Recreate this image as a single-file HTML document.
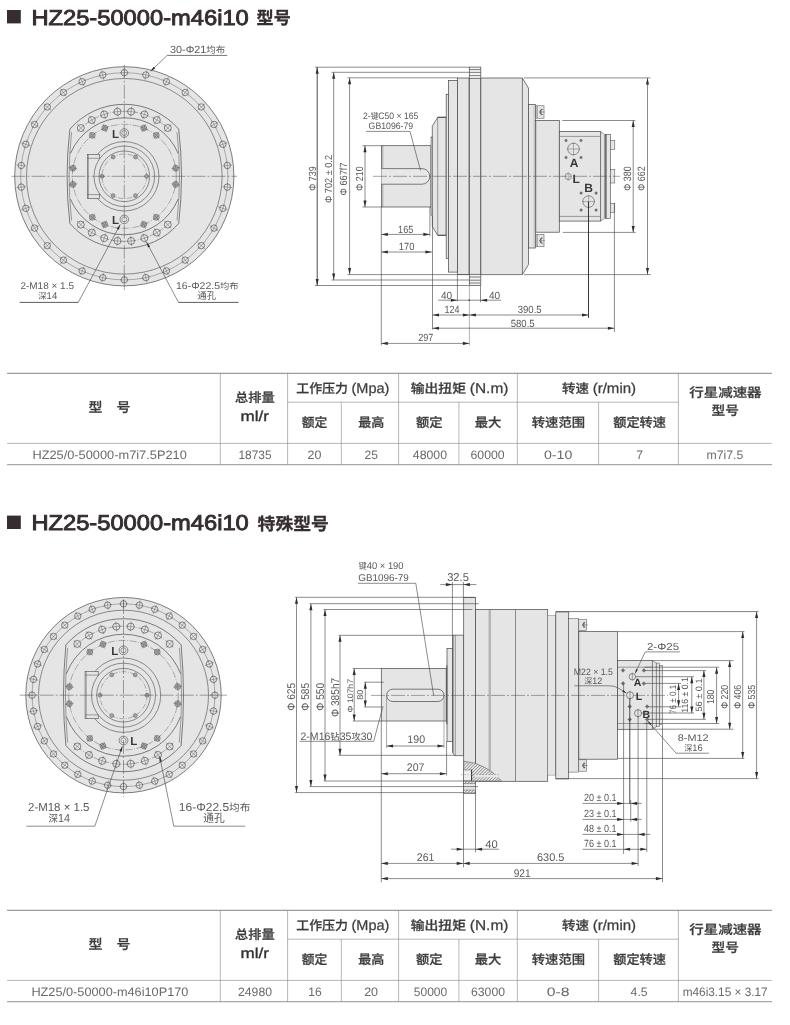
<!DOCTYPE html>
<html lang="zh-CN">
<head>
<meta charset="utf-8">
<title>HZ25-50000-m46i10</title>
<style>
html, body { margin: 0; padding: 0; background: #ffffff; }
body { width: 790px; height: 1025px; overflow: hidden; position: relative;
  font-family: "Liberation Sans", "Noto Sans CJK SC", sans-serif; color: #595959; }
main, section, header, figure { display: block; margin: 0; padding: 0; }
svg { display: block; position: absolute; left: 0; will-change: transform; overflow: hidden; }
text { white-space: pre; text-rendering: geometricPrecision; }
</style>
</head>
<body>
<main>
<section class="product" id="model-standard">
<header>
<svg class="heading" role="img" aria-label="HZ25-50000-m46i10 型号" width="790" height="40" viewBox="0 0 790 40" style="top:0px">
<rect x="7.00" y="10.00" width="13.80" height="13.40" fill="#352d2e" stroke="none" stroke-width="0"/>
<text x="31.40" y="24.80" font-size="21.4" textLength="217.40" lengthAdjust="spacingAndGlyphs" stroke="#352d2e" stroke-width="0.9" fill="#352d2e" font-family='"Liberation Sans", "Noto Sans CJK SC", sans-serif'>HZ25-50000-m46i10</text>
<text x="256.60" y="24.40" font-size="17.2" textLength="34.20" lengthAdjust="spacingAndGlyphs" font-weight="bold" stroke="#352d2e" stroke-width="0.3" fill="#352d2e" font-family='"Liberation Sans", "Noto Sans CJK SC", sans-serif'>型号</text>
</svg>
</header>
<figure>
<svg class="drawing" role="img" aria-label="外形尺寸图" width="790" height="320" viewBox="0 40 790 320" style="top:40px">
<circle cx="124.30" cy="176.30" r="109.60" fill="#e5e5e5" stroke="#4a4a4a" stroke-width="0.7"/>
<circle cx="124.30" cy="176.30" r="103.60" fill="none" stroke="#4a4a4a" stroke-width="0.4"/>
<circle cx="124.30" cy="176.30" r="97.80" fill="none" stroke="#4a4a4a" stroke-width="0.6"/>
<circle cx="124.30" cy="72.70" r="3.20" fill="#e5e5e5" stroke="#4a4a4a" stroke-width="0.65"/>
<line x1="124.30" y1="77.50" x2="124.30" y2="67.90" stroke="#4a4a4a" stroke-width="0.4"/>
<line x1="120.14" y1="72.70" x2="128.46" y2="72.70" stroke="#4a4a4a" stroke-width="0.4"/>
<circle cx="145.84" cy="74.96" r="3.20" fill="#e5e5e5" stroke="#4a4a4a" stroke-width="0.65"/>
<line x1="144.84" y1="79.66" x2="146.84" y2="70.27" stroke="#4a4a4a" stroke-width="0.4"/>
<line x1="141.77" y1="74.10" x2="149.91" y2="75.83" stroke="#4a4a4a" stroke-width="0.4"/>
<circle cx="166.44" cy="81.66" r="3.20" fill="#e5e5e5" stroke="#4a4a4a" stroke-width="0.65"/>
<line x1="164.49" y1="86.04" x2="168.39" y2="77.27" stroke="#4a4a4a" stroke-width="0.4"/>
<line x1="162.64" y1="79.96" x2="170.24" y2="83.35" stroke="#4a4a4a" stroke-width="0.4"/>
<circle cx="185.19" cy="92.49" r="3.20" fill="#e5e5e5" stroke="#4a4a4a" stroke-width="0.65"/>
<line x1="182.37" y1="96.37" x2="188.02" y2="88.60" stroke="#4a4a4a" stroke-width="0.4"/>
<line x1="181.83" y1="90.04" x2="188.56" y2="94.93" stroke="#4a4a4a" stroke-width="0.4"/>
<circle cx="201.29" cy="106.98" r="3.20" fill="#e5e5e5" stroke="#4a4a4a" stroke-width="0.65"/>
<line x1="197.72" y1="110.19" x2="204.86" y2="103.77" stroke="#4a4a4a" stroke-width="0.4"/>
<line x1="198.51" y1="103.89" x2="204.07" y2="110.07" stroke="#4a4a4a" stroke-width="0.4"/>
<circle cx="214.02" cy="124.50" r="3.20" fill="#e5e5e5" stroke="#4a4a4a" stroke-width="0.65"/>
<line x1="209.86" y1="126.90" x2="218.18" y2="122.10" stroke="#4a4a4a" stroke-width="0.4"/>
<line x1="211.94" y1="120.90" x2="216.10" y2="128.10" stroke="#4a4a4a" stroke-width="0.4"/>
<circle cx="222.83" cy="144.29" r="3.20" fill="#e5e5e5" stroke="#4a4a4a" stroke-width="0.65"/>
<line x1="218.26" y1="145.77" x2="227.39" y2="142.80" stroke="#4a4a4a" stroke-width="0.4"/>
<line x1="221.54" y1="140.33" x2="224.11" y2="148.24" stroke="#4a4a4a" stroke-width="0.4"/>
<circle cx="227.33" cy="165.47" r="3.20" fill="#e5e5e5" stroke="#4a4a4a" stroke-width="0.65"/>
<line x1="222.56" y1="165.97" x2="232.11" y2="164.97" stroke="#4a4a4a" stroke-width="0.4"/>
<line x1="226.90" y1="161.33" x2="227.77" y2="169.61" stroke="#4a4a4a" stroke-width="0.4"/>
<circle cx="227.33" cy="187.13" r="3.20" fill="#e5e5e5" stroke="#4a4a4a" stroke-width="0.65"/>
<line x1="222.56" y1="186.63" x2="232.11" y2="187.63" stroke="#4a4a4a" stroke-width="0.4"/>
<line x1="227.77" y1="182.99" x2="226.90" y2="191.27" stroke="#4a4a4a" stroke-width="0.4"/>
<circle cx="222.83" cy="208.31" r="3.20" fill="#e5e5e5" stroke="#4a4a4a" stroke-width="0.65"/>
<line x1="218.26" y1="206.83" x2="227.39" y2="209.80" stroke="#4a4a4a" stroke-width="0.4"/>
<line x1="224.11" y1="204.36" x2="221.54" y2="212.27" stroke="#4a4a4a" stroke-width="0.4"/>
<circle cx="214.02" cy="228.10" r="3.20" fill="#e5e5e5" stroke="#4a4a4a" stroke-width="0.65"/>
<line x1="209.86" y1="225.70" x2="218.18" y2="230.50" stroke="#4a4a4a" stroke-width="0.4"/>
<line x1="216.10" y1="224.50" x2="211.94" y2="231.70" stroke="#4a4a4a" stroke-width="0.4"/>
<circle cx="201.29" cy="245.62" r="3.20" fill="#e5e5e5" stroke="#4a4a4a" stroke-width="0.65"/>
<line x1="197.72" y1="242.41" x2="204.86" y2="248.83" stroke="#4a4a4a" stroke-width="0.4"/>
<line x1="204.07" y1="242.53" x2="198.51" y2="248.71" stroke="#4a4a4a" stroke-width="0.4"/>
<circle cx="185.19" cy="260.11" r="3.20" fill="#e5e5e5" stroke="#4a4a4a" stroke-width="0.65"/>
<line x1="182.37" y1="256.23" x2="188.02" y2="264.00" stroke="#4a4a4a" stroke-width="0.4"/>
<line x1="188.56" y1="257.67" x2="181.83" y2="262.56" stroke="#4a4a4a" stroke-width="0.4"/>
<circle cx="166.44" cy="270.94" r="3.20" fill="#e5e5e5" stroke="#4a4a4a" stroke-width="0.65"/>
<line x1="164.49" y1="266.56" x2="168.39" y2="275.33" stroke="#4a4a4a" stroke-width="0.4"/>
<line x1="170.24" y1="269.25" x2="162.64" y2="272.64" stroke="#4a4a4a" stroke-width="0.4"/>
<circle cx="145.84" cy="277.64" r="3.20" fill="#e5e5e5" stroke="#4a4a4a" stroke-width="0.65"/>
<line x1="144.84" y1="272.94" x2="146.84" y2="282.33" stroke="#4a4a4a" stroke-width="0.4"/>
<line x1="149.91" y1="276.77" x2="141.77" y2="278.50" stroke="#4a4a4a" stroke-width="0.4"/>
<circle cx="124.30" cy="279.90" r="3.20" fill="#e5e5e5" stroke="#4a4a4a" stroke-width="0.65"/>
<line x1="124.30" y1="275.10" x2="124.30" y2="284.70" stroke="#4a4a4a" stroke-width="0.4"/>
<line x1="128.46" y1="279.90" x2="120.14" y2="279.90" stroke="#4a4a4a" stroke-width="0.4"/>
<circle cx="102.76" cy="277.64" r="3.20" fill="#e5e5e5" stroke="#4a4a4a" stroke-width="0.65"/>
<line x1="103.76" y1="272.94" x2="101.76" y2="282.33" stroke="#4a4a4a" stroke-width="0.4"/>
<line x1="106.83" y1="278.50" x2="98.69" y2="276.77" stroke="#4a4a4a" stroke-width="0.4"/>
<circle cx="82.16" cy="270.94" r="3.20" fill="#e5e5e5" stroke="#4a4a4a" stroke-width="0.65"/>
<line x1="84.11" y1="266.56" x2="80.21" y2="275.33" stroke="#4a4a4a" stroke-width="0.4"/>
<line x1="85.96" y1="272.64" x2="78.36" y2="269.25" stroke="#4a4a4a" stroke-width="0.4"/>
<circle cx="63.41" cy="260.11" r="3.20" fill="#e5e5e5" stroke="#4a4a4a" stroke-width="0.65"/>
<line x1="66.23" y1="256.23" x2="60.58" y2="264.00" stroke="#4a4a4a" stroke-width="0.4"/>
<line x1="66.77" y1="262.56" x2="60.04" y2="257.67" stroke="#4a4a4a" stroke-width="0.4"/>
<circle cx="47.31" cy="245.62" r="3.20" fill="#e5e5e5" stroke="#4a4a4a" stroke-width="0.65"/>
<line x1="50.88" y1="242.41" x2="43.74" y2="248.83" stroke="#4a4a4a" stroke-width="0.4"/>
<line x1="50.09" y1="248.71" x2="44.53" y2="242.53" stroke="#4a4a4a" stroke-width="0.4"/>
<circle cx="34.58" cy="228.10" r="3.20" fill="#e5e5e5" stroke="#4a4a4a" stroke-width="0.65"/>
<line x1="38.74" y1="225.70" x2="30.42" y2="230.50" stroke="#4a4a4a" stroke-width="0.4"/>
<line x1="36.66" y1="231.70" x2="32.50" y2="224.50" stroke="#4a4a4a" stroke-width="0.4"/>
<circle cx="25.77" cy="208.31" r="3.20" fill="#e5e5e5" stroke="#4a4a4a" stroke-width="0.65"/>
<line x1="30.34" y1="206.83" x2="21.21" y2="209.80" stroke="#4a4a4a" stroke-width="0.4"/>
<line x1="27.06" y1="212.27" x2="24.49" y2="204.36" stroke="#4a4a4a" stroke-width="0.4"/>
<circle cx="21.27" cy="187.13" r="3.20" fill="#e5e5e5" stroke="#4a4a4a" stroke-width="0.65"/>
<line x1="26.04" y1="186.63" x2="16.49" y2="187.63" stroke="#4a4a4a" stroke-width="0.4"/>
<line x1="21.70" y1="191.27" x2="20.83" y2="182.99" stroke="#4a4a4a" stroke-width="0.4"/>
<circle cx="21.27" cy="165.47" r="3.20" fill="#e5e5e5" stroke="#4a4a4a" stroke-width="0.65"/>
<line x1="26.04" y1="165.97" x2="16.49" y2="164.97" stroke="#4a4a4a" stroke-width="0.4"/>
<line x1="20.83" y1="169.61" x2="21.70" y2="161.33" stroke="#4a4a4a" stroke-width="0.4"/>
<circle cx="25.77" cy="144.29" r="3.20" fill="#e5e5e5" stroke="#4a4a4a" stroke-width="0.65"/>
<line x1="30.34" y1="145.77" x2="21.21" y2="142.80" stroke="#4a4a4a" stroke-width="0.4"/>
<line x1="24.49" y1="148.24" x2="27.06" y2="140.33" stroke="#4a4a4a" stroke-width="0.4"/>
<circle cx="34.58" cy="124.50" r="3.20" fill="#e5e5e5" stroke="#4a4a4a" stroke-width="0.65"/>
<line x1="38.74" y1="126.90" x2="30.42" y2="122.10" stroke="#4a4a4a" stroke-width="0.4"/>
<line x1="32.50" y1="128.10" x2="36.66" y2="120.90" stroke="#4a4a4a" stroke-width="0.4"/>
<circle cx="47.31" cy="106.98" r="3.20" fill="#e5e5e5" stroke="#4a4a4a" stroke-width="0.65"/>
<line x1="50.88" y1="110.19" x2="43.74" y2="103.77" stroke="#4a4a4a" stroke-width="0.4"/>
<line x1="44.53" y1="110.07" x2="50.09" y2="103.89" stroke="#4a4a4a" stroke-width="0.4"/>
<circle cx="63.41" cy="92.49" r="3.20" fill="#e5e5e5" stroke="#4a4a4a" stroke-width="0.65"/>
<line x1="66.23" y1="96.37" x2="60.58" y2="88.60" stroke="#4a4a4a" stroke-width="0.4"/>
<line x1="60.04" y1="94.93" x2="66.77" y2="90.04" stroke="#4a4a4a" stroke-width="0.4"/>
<circle cx="82.16" cy="81.66" r="3.20" fill="#e5e5e5" stroke="#4a4a4a" stroke-width="0.65"/>
<line x1="84.11" y1="86.04" x2="80.21" y2="77.27" stroke="#4a4a4a" stroke-width="0.4"/>
<line x1="78.36" y1="83.35" x2="85.96" y2="79.96" stroke="#4a4a4a" stroke-width="0.4"/>
<circle cx="102.76" cy="74.96" r="3.20" fill="#e5e5e5" stroke="#4a4a4a" stroke-width="0.65"/>
<line x1="103.76" y1="79.66" x2="101.76" y2="70.27" stroke="#4a4a4a" stroke-width="0.4"/>
<line x1="98.69" y1="75.83" x2="106.83" y2="74.10" stroke="#4a4a4a" stroke-width="0.4"/>
<path d="M69.90,129.13 A72.00,72.00 0 0 1 178.70,129.13 A398.66,398.66 0 0 1 178.70,223.47 A72.00,72.00 0 0 1 69.90,223.47 A398.66,398.66 0 0 1 69.90,129.13 Z" fill="#e5e5e5" stroke="#4a4a4a" stroke-width="0.7" />
<path d="M71.60,132.13 A398.66,398.66 0 0 0 71.60,220.47 M177.00,132.13 A398.66,398.66 0 0 1 177.00,220.47" fill="none" stroke="#4a4a4a" stroke-width="0.5" />
<path d="M70.40,153.56 A58.50,58.50 0 0 1 178.20,153.56 M178.20,199.04 A58.50,58.50 0 0 1 70.40,199.04" fill="none" stroke="#4a4a4a" stroke-width="0.7" />
<path d="M77.54,131.15 A65.00,65.00 0 0 1 171.06,131.15" fill="none" stroke="#4a4a4a" stroke-width="0.4" stroke-dasharray="6 1.5 1 1.5" />
<circle cx="80.81" cy="128.00" r="3.50" fill="#e5e5e5" stroke="#4a4a4a" stroke-width="0.65"/>
<line x1="84.22" y1="131.79" x2="77.39" y2="124.21" stroke="#4a4a4a" stroke-width="0.4"/>
<line x1="77.49" y1="130.98" x2="84.12" y2="125.01" stroke="#4a4a4a" stroke-width="0.4"/>
<circle cx="91.80" cy="120.01" r="3.50" fill="#e5e5e5" stroke="#4a4a4a" stroke-width="0.65"/>
<line x1="94.35" y1="124.43" x2="89.25" y2="115.59" stroke="#4a4a4a" stroke-width="0.4"/>
<line x1="87.94" y1="122.24" x2="95.66" y2="117.78" stroke="#4a4a4a" stroke-width="0.4"/>
<circle cx="104.21" cy="114.48" r="3.50" fill="#e5e5e5" stroke="#4a4a4a" stroke-width="0.65"/>
<line x1="105.79" y1="119.33" x2="102.64" y2="109.63" stroke="#4a4a4a" stroke-width="0.4"/>
<line x1="99.97" y1="115.86" x2="108.46" y2="113.10" stroke="#4a4a4a" stroke-width="0.4"/>
<circle cx="117.51" cy="111.66" r="3.50" fill="#e5e5e5" stroke="#4a4a4a" stroke-width="0.65"/>
<line x1="118.04" y1="116.73" x2="116.97" y2="106.58" stroke="#4a4a4a" stroke-width="0.4"/>
<line x1="113.07" y1="112.12" x2="121.94" y2="111.19" stroke="#4a4a4a" stroke-width="0.4"/>
<circle cx="131.09" cy="111.66" r="3.50" fill="#e5e5e5" stroke="#4a4a4a" stroke-width="0.65"/>
<line x1="130.56" y1="116.73" x2="131.63" y2="106.58" stroke="#4a4a4a" stroke-width="0.4"/>
<line x1="126.66" y1="111.19" x2="135.53" y2="112.12" stroke="#4a4a4a" stroke-width="0.4"/>
<circle cx="144.39" cy="114.48" r="3.50" fill="#e5e5e5" stroke="#4a4a4a" stroke-width="0.65"/>
<line x1="142.81" y1="119.33" x2="145.96" y2="109.63" stroke="#4a4a4a" stroke-width="0.4"/>
<line x1="140.14" y1="113.10" x2="148.63" y2="115.86" stroke="#4a4a4a" stroke-width="0.4"/>
<circle cx="156.80" cy="120.01" r="3.50" fill="#e5e5e5" stroke="#4a4a4a" stroke-width="0.65"/>
<line x1="154.25" y1="124.43" x2="159.35" y2="115.59" stroke="#4a4a4a" stroke-width="0.4"/>
<line x1="152.94" y1="117.78" x2="160.66" y2="122.24" stroke="#4a4a4a" stroke-width="0.4"/>
<circle cx="167.79" cy="128.00" r="3.50" fill="#e5e5e5" stroke="#4a4a4a" stroke-width="0.65"/>
<line x1="164.38" y1="131.79" x2="171.21" y2="124.21" stroke="#4a4a4a" stroke-width="0.4"/>
<line x1="164.48" y1="125.01" x2="171.11" y2="130.98" stroke="#4a4a4a" stroke-width="0.4"/>
<path d="M171.06,221.45 A65.00,65.00 0 0 1 77.54,221.45" fill="none" stroke="#4a4a4a" stroke-width="0.4" stroke-dasharray="6 1.5 1 1.5" />
<circle cx="167.79" cy="224.60" r="3.50" fill="#e5e5e5" stroke="#4a4a4a" stroke-width="0.65"/>
<line x1="164.38" y1="220.81" x2="171.21" y2="228.39" stroke="#4a4a4a" stroke-width="0.4"/>
<line x1="171.11" y1="221.62" x2="164.48" y2="227.59" stroke="#4a4a4a" stroke-width="0.4"/>
<circle cx="156.80" cy="232.59" r="3.50" fill="#e5e5e5" stroke="#4a4a4a" stroke-width="0.65"/>
<line x1="154.25" y1="228.17" x2="159.35" y2="237.01" stroke="#4a4a4a" stroke-width="0.4"/>
<line x1="160.66" y1="230.36" x2="152.94" y2="234.82" stroke="#4a4a4a" stroke-width="0.4"/>
<circle cx="144.39" cy="238.12" r="3.50" fill="#e5e5e5" stroke="#4a4a4a" stroke-width="0.65"/>
<line x1="142.81" y1="233.27" x2="145.96" y2="242.97" stroke="#4a4a4a" stroke-width="0.4"/>
<line x1="148.63" y1="236.74" x2="140.14" y2="239.50" stroke="#4a4a4a" stroke-width="0.4"/>
<circle cx="131.09" cy="240.94" r="3.50" fill="#e5e5e5" stroke="#4a4a4a" stroke-width="0.65"/>
<line x1="130.56" y1="235.87" x2="131.63" y2="246.02" stroke="#4a4a4a" stroke-width="0.4"/>
<line x1="135.53" y1="240.48" x2="126.66" y2="241.41" stroke="#4a4a4a" stroke-width="0.4"/>
<circle cx="117.51" cy="240.94" r="3.50" fill="#e5e5e5" stroke="#4a4a4a" stroke-width="0.65"/>
<line x1="118.04" y1="235.87" x2="116.97" y2="246.02" stroke="#4a4a4a" stroke-width="0.4"/>
<line x1="121.94" y1="241.41" x2="113.07" y2="240.48" stroke="#4a4a4a" stroke-width="0.4"/>
<circle cx="104.21" cy="238.12" r="3.50" fill="#e5e5e5" stroke="#4a4a4a" stroke-width="0.65"/>
<line x1="105.79" y1="233.27" x2="102.64" y2="242.97" stroke="#4a4a4a" stroke-width="0.4"/>
<line x1="108.46" y1="239.50" x2="99.97" y2="236.74" stroke="#4a4a4a" stroke-width="0.4"/>
<circle cx="91.80" cy="232.59" r="3.50" fill="#e5e5e5" stroke="#4a4a4a" stroke-width="0.65"/>
<line x1="94.35" y1="228.17" x2="89.25" y2="237.01" stroke="#4a4a4a" stroke-width="0.4"/>
<line x1="95.66" y1="234.82" x2="87.94" y2="230.36" stroke="#4a4a4a" stroke-width="0.4"/>
<circle cx="80.81" cy="224.60" r="3.50" fill="#e5e5e5" stroke="#4a4a4a" stroke-width="0.65"/>
<line x1="84.22" y1="220.81" x2="77.39" y2="228.39" stroke="#4a4a4a" stroke-width="0.4"/>
<line x1="84.12" y1="227.59" x2="77.49" y2="221.62" stroke="#4a4a4a" stroke-width="0.4"/>
<circle cx="124.30" cy="176.30" r="52.00" fill="none" stroke="#4a4a4a" stroke-width="0.4" stroke-dasharray="7 1.5 1 1.5"/>
<circle cx="92.29" cy="135.32" r="2.90" fill="#cfcfcf" stroke="#4a4a4a" stroke-width="0.6"/>
<circle cx="92.29" cy="135.32" r="1.59" fill="none" stroke="#4a4a4a" stroke-width="0.5"/>
<line x1="94.99" y1="138.79" x2="89.58" y2="131.86" stroke="#4a4a4a" stroke-width="0.4"/>
<line x1="89.05" y1="137.85" x2="95.52" y2="132.80" stroke="#4a4a4a" stroke-width="0.4"/>
<circle cx="104.82" cy="128.09" r="2.90" fill="#cfcfcf" stroke="#4a4a4a" stroke-width="0.6"/>
<circle cx="104.82" cy="128.09" r="1.59" fill="none" stroke="#4a4a4a" stroke-width="0.5"/>
<line x1="106.47" y1="132.17" x2="103.17" y2="124.01" stroke="#4a4a4a" stroke-width="0.4"/>
<line x1="101.02" y1="129.62" x2="108.62" y2="126.55" stroke="#4a4a4a" stroke-width="0.4"/>
<circle cx="143.78" cy="128.09" r="2.90" fill="#cfcfcf" stroke="#4a4a4a" stroke-width="0.6"/>
<circle cx="143.78" cy="128.09" r="1.59" fill="none" stroke="#4a4a4a" stroke-width="0.5"/>
<line x1="142.13" y1="132.17" x2="145.43" y2="124.01" stroke="#4a4a4a" stroke-width="0.4"/>
<line x1="139.98" y1="126.55" x2="147.58" y2="129.62" stroke="#4a4a4a" stroke-width="0.4"/>
<circle cx="156.31" cy="135.32" r="2.90" fill="#cfcfcf" stroke="#4a4a4a" stroke-width="0.6"/>
<circle cx="156.31" cy="135.32" r="1.59" fill="none" stroke="#4a4a4a" stroke-width="0.5"/>
<line x1="153.61" y1="138.79" x2="159.02" y2="131.86" stroke="#4a4a4a" stroke-width="0.4"/>
<line x1="153.08" y1="132.80" x2="159.55" y2="137.85" stroke="#4a4a4a" stroke-width="0.4"/>
<circle cx="156.31" cy="217.28" r="2.90" fill="#cfcfcf" stroke="#4a4a4a" stroke-width="0.6"/>
<circle cx="156.31" cy="217.28" r="1.59" fill="none" stroke="#4a4a4a" stroke-width="0.5"/>
<line x1="153.61" y1="213.81" x2="159.02" y2="220.74" stroke="#4a4a4a" stroke-width="0.4"/>
<line x1="159.55" y1="214.75" x2="153.08" y2="219.80" stroke="#4a4a4a" stroke-width="0.4"/>
<circle cx="143.78" cy="224.51" r="2.90" fill="#cfcfcf" stroke="#4a4a4a" stroke-width="0.6"/>
<circle cx="143.78" cy="224.51" r="1.59" fill="none" stroke="#4a4a4a" stroke-width="0.5"/>
<line x1="142.13" y1="220.43" x2="145.43" y2="228.59" stroke="#4a4a4a" stroke-width="0.4"/>
<line x1="147.58" y1="222.98" x2="139.98" y2="226.05" stroke="#4a4a4a" stroke-width="0.4"/>
<circle cx="104.82" cy="224.51" r="2.90" fill="#cfcfcf" stroke="#4a4a4a" stroke-width="0.6"/>
<circle cx="104.82" cy="224.51" r="1.59" fill="none" stroke="#4a4a4a" stroke-width="0.5"/>
<line x1="106.47" y1="220.43" x2="103.17" y2="228.59" stroke="#4a4a4a" stroke-width="0.4"/>
<line x1="108.62" y1="226.05" x2="101.02" y2="222.98" stroke="#4a4a4a" stroke-width="0.4"/>
<circle cx="92.29" cy="217.28" r="2.90" fill="#cfcfcf" stroke="#4a4a4a" stroke-width="0.6"/>
<circle cx="92.29" cy="217.28" r="1.59" fill="none" stroke="#4a4a4a" stroke-width="0.5"/>
<line x1="94.99" y1="213.81" x2="89.58" y2="220.74" stroke="#4a4a4a" stroke-width="0.4"/>
<line x1="95.52" y1="219.80" x2="89.05" y2="214.75" stroke="#4a4a4a" stroke-width="0.4"/>
<circle cx="175.66" cy="168.17" r="2.90" fill="#cfcfcf" stroke="#4a4a4a" stroke-width="0.6"/>
<circle cx="175.66" cy="168.17" r="1.59" fill="none" stroke="#4a4a4a" stroke-width="0.5"/>
<line x1="171.31" y1="168.85" x2="180.01" y2="167.48" stroke="#4a4a4a" stroke-width="0.4"/>
<line x1="175.02" y1="164.12" x2="176.30" y2="172.21" stroke="#4a4a4a" stroke-width="0.4"/>
<circle cx="175.66" cy="184.43" r="2.90" fill="#cfcfcf" stroke="#4a4a4a" stroke-width="0.6"/>
<circle cx="175.66" cy="184.43" r="1.59" fill="none" stroke="#4a4a4a" stroke-width="0.5"/>
<line x1="171.31" y1="183.75" x2="180.01" y2="185.12" stroke="#4a4a4a" stroke-width="0.4"/>
<line x1="176.30" y1="180.39" x2="175.02" y2="188.48" stroke="#4a4a4a" stroke-width="0.4"/>
<circle cx="72.94" cy="184.43" r="2.90" fill="#cfcfcf" stroke="#4a4a4a" stroke-width="0.6"/>
<circle cx="72.94" cy="184.43" r="1.59" fill="none" stroke="#4a4a4a" stroke-width="0.5"/>
<line x1="77.29" y1="183.75" x2="68.59" y2="185.12" stroke="#4a4a4a" stroke-width="0.4"/>
<line x1="73.58" y1="188.48" x2="72.30" y2="180.39" stroke="#4a4a4a" stroke-width="0.4"/>
<circle cx="72.94" cy="168.17" r="2.90" fill="#cfcfcf" stroke="#4a4a4a" stroke-width="0.6"/>
<circle cx="72.94" cy="168.17" r="1.59" fill="none" stroke="#4a4a4a" stroke-width="0.5"/>
<line x1="77.29" y1="168.85" x2="68.59" y2="167.48" stroke="#4a4a4a" stroke-width="0.4"/>
<line x1="72.30" y1="172.21" x2="73.58" y2="164.12" stroke="#4a4a4a" stroke-width="0.4"/>
<circle cx="124.30" cy="176.30" r="34.70" fill="#e5e5e5" stroke="#4a4a4a" stroke-width="0.6"/>
<rect x="87.30" y="154.50" width="12.20" height="43.90" fill="#e5e5e5" stroke="#4a4a4a" stroke-width="0.6"/>
<line x1="88.50" y1="154.50" x2="88.50" y2="198.40" stroke="#4a4a4a" stroke-width="0.4"/>
<line x1="87.30" y1="158.30" x2="99.50" y2="158.30" stroke="#4a4a4a" stroke-width="0.5"/>
<line x1="87.30" y1="194.60" x2="99.50" y2="194.60" stroke="#4a4a4a" stroke-width="0.5"/>
<circle cx="124.30" cy="176.30" r="30.30" fill="#e5e5e5" stroke="#4a4a4a" stroke-width="0.6"/>
<circle cx="124.30" cy="176.30" r="25.30" fill="none" stroke="#4a4a4a" stroke-width="0.6"/>
<circle cx="124.30" cy="176.30" r="22.30" fill="none" stroke="#4a4a4a" stroke-width="0.4" stroke-dasharray="5 1.5 1 1.5"/>
<circle cx="135.45" cy="156.99" r="1.90" fill="#cfcfcf" stroke="#4a4a4a" stroke-width="0.6"/>
<circle cx="135.45" cy="156.99" r="0.90" fill="none" stroke="#4a4a4a" stroke-width="0.4"/>
<circle cx="146.60" cy="176.30" r="1.90" fill="#cfcfcf" stroke="#4a4a4a" stroke-width="0.6"/>
<circle cx="146.60" cy="176.30" r="0.90" fill="none" stroke="#4a4a4a" stroke-width="0.4"/>
<circle cx="135.45" cy="195.61" r="1.90" fill="#cfcfcf" stroke="#4a4a4a" stroke-width="0.6"/>
<circle cx="135.45" cy="195.61" r="0.90" fill="none" stroke="#4a4a4a" stroke-width="0.4"/>
<circle cx="113.15" cy="195.61" r="1.90" fill="#cfcfcf" stroke="#4a4a4a" stroke-width="0.6"/>
<circle cx="113.15" cy="195.61" r="0.90" fill="none" stroke="#4a4a4a" stroke-width="0.4"/>
<circle cx="102.00" cy="176.30" r="1.90" fill="#cfcfcf" stroke="#4a4a4a" stroke-width="0.6"/>
<circle cx="102.00" cy="176.30" r="0.90" fill="none" stroke="#4a4a4a" stroke-width="0.4"/>
<circle cx="113.15" cy="156.99" r="1.90" fill="#cfcfcf" stroke="#4a4a4a" stroke-width="0.6"/>
<circle cx="113.15" cy="156.99" r="0.90" fill="none" stroke="#4a4a4a" stroke-width="0.4"/>
<circle cx="124.30" cy="133.00" r="4.30" fill="#e5e5e5" stroke="#4a4a4a" stroke-width="0.6"/>
<circle cx="124.30" cy="133.00" r="2.49" fill="none" stroke="#4a4a4a" stroke-width="0.5"/>
<text x="119.10" y="137.60" font-size="11.5" text-anchor="end" font-weight="bold" fill="#3a3a3a" font-family='"Liberation Sans", "Noto Sans CJK SC", sans-serif'>L</text>
<circle cx="124.30" cy="219.40" r="4.30" fill="#e5e5e5" stroke="#4a4a4a" stroke-width="0.6"/>
<circle cx="124.30" cy="219.40" r="2.49" fill="none" stroke="#4a4a4a" stroke-width="0.5"/>
<text x="119.10" y="224.00" font-size="11.5" text-anchor="end" font-weight="bold" fill="#3a3a3a" font-family='"Liberation Sans", "Noto Sans CJK SC", sans-serif'>L</text>
<line x1="11.50" y1="176.30" x2="237.00" y2="176.30" stroke="#4a4a4a" stroke-width="0.5" stroke-dasharray="14 2 2 2"/>
<line x1="124.30" y1="64.70" x2="124.30" y2="290.00" stroke="#4a4a4a" stroke-width="0.5" stroke-dasharray="14 2 2 2"/>
<text x="170.00" y="52.60" font-size="10.4" textLength="55.40" lengthAdjust="spacingAndGlyphs" fill="#595959" font-family='"Liberation Sans", "Noto Sans CJK SC", sans-serif'>30-Φ21<tspan font-size="9.15">均布</tspan></text>
<line x1="167.20" y1="55.40" x2="227.20" y2="55.40" stroke="#3a3a3a" stroke-width="0.7"/>
<line x1="167.20" y1="55.40" x2="150.50" y2="71.30" stroke="#4a4a4a" stroke-width="0.64"/>
<polygon points="150.50,71.30 153.66,66.64 155.31,68.38" fill="#2e2e2e"/>
<text x="20.40" y="288.50" font-size="9.8" textLength="53.60" lengthAdjust="spacingAndGlyphs" fill="#595959" font-family='"Liberation Sans", "Noto Sans CJK SC", sans-serif'>2-M18 × 1.5</text>
<text x="47.70" y="298.70" font-size="9.8" text-anchor="middle" textLength="19.00" lengthAdjust="spacingAndGlyphs" fill="#595959" font-family='"Liberation Sans", "Noto Sans CJK SC", sans-serif'><tspan font-size="8.62">深</tspan>14</text>
<line x1="19.70" y1="302.40" x2="78.30" y2="302.40" stroke="#333" stroke-width="0.8"/>
<line x1="78.30" y1="302.20" x2="120.30" y2="224.40" stroke="#4a4a4a" stroke-width="0.64"/>
<polygon points="120.30,224.40 118.74,229.81 116.63,228.67" fill="#2e2e2e"/>
<text x="176.00" y="288.50" font-size="9.8" textLength="62.60" lengthAdjust="spacingAndGlyphs" fill="#595959" font-family='"Liberation Sans", "Noto Sans CJK SC", sans-serif'>16-Φ22.5<tspan font-size="8.62">均布</tspan></text>
<text x="206.70" y="299.20" font-size="9.8" text-anchor="middle" textLength="19.00" lengthAdjust="spacingAndGlyphs" fill="#595959" font-family='"Liberation Sans", "Noto Sans CJK SC", sans-serif'>通孔</text>
<line x1="178.40" y1="302.40" x2="238.60" y2="302.40" stroke="#333" stroke-width="0.8"/>
<line x1="178.40" y1="302.20" x2="146.50" y2="242.10" stroke="#4a4a4a" stroke-width="0.64"/>
<polygon points="146.50,242.10 150.14,246.39 148.02,247.52" fill="#2e2e2e"/>
<rect x="381.50" y="145.70" width="49.50" height="61.30" fill="#e5e5e5" stroke="#4a4a4a" stroke-width="0.72"/>
<line x1="382.80" y1="145.70" x2="382.80" y2="207.00" stroke="#4a4a4a" stroke-width="0.4"/>
<path d="M381.5,168.6 L422.0,168.6 A7.8,7.8 0 0 1 422.0,184.2 L381.5,184.2" fill="#e8e8e8" stroke="#4a4a4a" stroke-width="0.7" />
<rect x="431.00" y="137.00" width="1.30" height="78.60" fill="#e5e5e5" stroke="#4a4a4a" stroke-width="0.5"/>
<polygon points="432.30,126.20 437.70,117.30 446.20,117.30 446.20,235.30 437.70,235.30 432.30,226.40" fill="#e5e5e5" stroke="#4a4a4a" stroke-width="0.72" stroke-linejoin="miter"/>
<line x1="437.70" y1="117.30" x2="437.70" y2="235.30" stroke="#4a4a4a" stroke-width="0.5"/>
<line x1="446.20" y1="117.30" x2="437.70" y2="117.30" stroke="#4a4a4a" stroke-width="0.9"/>
<line x1="446.20" y1="235.30" x2="437.70" y2="235.30" stroke="#4a4a4a" stroke-width="0.9"/>
<rect x="446.20" y="94.30" width="2.20" height="164.00" fill="#e5e5e5" stroke="#4a4a4a" stroke-width="0.72"/>
<rect x="448.40" y="80.50" width="9.20" height="191.60" fill="#e5e5e5" stroke="#4a4a4a" stroke-width="0.72"/>
<rect x="457.60" y="78.00" width="11.50" height="196.60" fill="#e5e5e5" stroke="#4a4a4a" stroke-width="0.72"/>
<rect x="469.30" y="67.10" width="11.50" height="218.40" fill="#f3f3f3" stroke="#4a4a4a" stroke-width="0.72"/>
<rect x="469.30" y="78.30" width="11.50" height="196.00" fill="#e5e5e5" stroke="#4a4a4a" stroke-width="0.72"/>
<line x1="469.30" y1="69.60" x2="480.80" y2="69.60" stroke="#4a4a4a" stroke-width="0.7"/>
<line x1="469.30" y1="283.00" x2="480.80" y2="283.00" stroke="#4a4a4a" stroke-width="0.7"/>
<line x1="469.30" y1="72.40" x2="480.80" y2="72.40" stroke="#4a4a4a" stroke-width="0.7"/>
<line x1="469.30" y1="280.20" x2="480.80" y2="280.20" stroke="#4a4a4a" stroke-width="0.7"/>
<line x1="469.30" y1="75.60" x2="480.80" y2="75.60" stroke="#4a4a4a" stroke-width="0.7"/>
<line x1="469.30" y1="277.00" x2="480.80" y2="277.00" stroke="#4a4a4a" stroke-width="0.7"/>
<polygon points="480.80,78.00 522.40,78.00 528.50,88.10 528.50,264.50 522.40,274.60 480.80,274.60" fill="#e5e5e5" stroke="#4a4a4a" stroke-width="0.72" stroke-linejoin="miter"/>
<line x1="522.40" y1="78.00" x2="522.40" y2="274.60" stroke="#4a4a4a" stroke-width="0.7"/>
<rect x="528.50" y="104.60" width="6.80" height="143.40" fill="#e5e5e5" stroke="#4a4a4a" stroke-width="0.72"/>
<line x1="534.00" y1="104.60" x2="534.00" y2="248.00" stroke="#999" stroke-width="0.4"/>
<rect x="536.00" y="105.80" width="8.00" height="12.40" fill="#e5e5e5" stroke="#4a4a4a" stroke-width="0.5"/>
<line x1="537.40" y1="105.80" x2="537.40" y2="118.20" stroke="#4a4a4a" stroke-width="0.4"/>
<path d="M542.6,109.40 A2.6,2.6 0 1 0 542.6,114.60" fill="none" stroke="#333" stroke-width="0.8" />
<line x1="539.00" y1="112.00" x2="545.00" y2="112.00" stroke="#4a4a4a" stroke-width="0.4"/>
<line x1="541.20" y1="108.80" x2="541.20" y2="115.20" stroke="#4a4a4a" stroke-width="0.4"/>
<rect x="536.00" y="234.40" width="8.00" height="12.40" fill="#e5e5e5" stroke="#4a4a4a" stroke-width="0.5"/>
<line x1="537.40" y1="234.40" x2="537.40" y2="246.80" stroke="#4a4a4a" stroke-width="0.4"/>
<path d="M542.6,238.00 A2.6,2.6 0 1 0 542.6,243.20" fill="none" stroke="#333" stroke-width="0.8" />
<line x1="539.00" y1="240.60" x2="545.00" y2="240.60" stroke="#4a4a4a" stroke-width="0.4"/>
<line x1="541.20" y1="237.40" x2="541.20" y2="243.80" stroke="#4a4a4a" stroke-width="0.4"/>
<rect x="535.30" y="120.40" width="24.00" height="111.80" fill="#e5e5e5" stroke="#4a4a4a" stroke-width="0.72"/>
<line x1="536.60" y1="120.40" x2="536.60" y2="232.20" stroke="#999" stroke-width="0.4"/>
<rect x="559.30" y="131.60" width="41.30" height="89.50" fill="#e5e5e5" stroke="#4a4a4a" stroke-width="0.72"/>
<line x1="559.30" y1="136.40" x2="600.60" y2="136.40" stroke="#4a4a4a" stroke-width="0.5"/>
<line x1="559.30" y1="216.40" x2="600.60" y2="216.40" stroke="#4a4a4a" stroke-width="0.5"/>
<polygon points="600.60,131.60 604.40,134.30 604.40,218.50 600.60,221.10" fill="#e5e5e5" stroke="#4a4a4a" stroke-width="0.5" stroke-linejoin="miter"/>
<rect x="605.20" y="134.30" width="5.20" height="84.20" fill="#e5e5e5" stroke="#4a4a4a" stroke-width="0.6"/>
<line x1="606.00" y1="134.30" x2="606.00" y2="218.50" stroke="#333" stroke-width="0.9"/>
<rect x="610.40" y="140.50" width="4.40" height="8.90" fill="#e5e5e5" stroke="#4a4a4a" stroke-width="0.5"/>
<rect x="610.40" y="169.70" width="4.40" height="13.30" fill="#e5e5e5" stroke="#4a4a4a" stroke-width="0.5"/>
<rect x="610.40" y="203.40" width="4.40" height="8.90" fill="#e5e5e5" stroke="#4a4a4a" stroke-width="0.5"/>
<circle cx="573.50" cy="149.00" r="5.80" fill="#e5e5e5" stroke="#4a4a4a" stroke-width="0.6"/>
<line x1="566.90" y1="149.00" x2="580.10" y2="149.00" stroke="#4a4a4a" stroke-width="0.4"/>
<line x1="573.50" y1="142.40" x2="573.50" y2="155.60" stroke="#4a4a4a" stroke-width="0.4"/>
<circle cx="566.00" cy="140.50" r="1.30" fill="#777" stroke="#555" stroke-width="0.3"/>
<circle cx="566.00" cy="157.50" r="1.30" fill="#777" stroke="#555" stroke-width="0.3"/>
<circle cx="581.00" cy="140.50" r="1.30" fill="#777" stroke="#555" stroke-width="0.3"/>
<circle cx="581.00" cy="157.50" r="1.30" fill="#777" stroke="#555" stroke-width="0.3"/>
<circle cx="588.60" cy="201.60" r="5.80" fill="#e5e5e5" stroke="#4a4a4a" stroke-width="0.6"/>
<line x1="582.00" y1="201.60" x2="595.20" y2="201.60" stroke="#4a4a4a" stroke-width="0.4"/>
<line x1="588.60" y1="195.00" x2="588.60" y2="208.20" stroke="#4a4a4a" stroke-width="0.4"/>
<circle cx="581.10" cy="193.10" r="1.30" fill="#777" stroke="#555" stroke-width="0.3"/>
<circle cx="581.10" cy="210.10" r="1.30" fill="#777" stroke="#555" stroke-width="0.3"/>
<circle cx="596.10" cy="193.10" r="1.30" fill="#777" stroke="#555" stroke-width="0.3"/>
<circle cx="596.10" cy="210.10" r="1.30" fill="#777" stroke="#555" stroke-width="0.3"/>
<circle cx="568.20" cy="176.50" r="3.20" fill="#e5e5e5" stroke="#4a4a4a" stroke-width="0.5"/>
<line x1="568.20" y1="172.30" x2="568.20" y2="180.70" stroke="#4a4a4a" stroke-width="0.4"/>
<text x="574.00" y="167.00" font-size="12" text-anchor="middle" font-weight="bold" fill="#3a3a3a" font-family='"Liberation Sans", "Noto Sans CJK SC", sans-serif'>A</text>
<text x="572.60" y="183.40" font-size="12" font-weight="bold" fill="#3a3a3a" font-family='"Liberation Sans", "Noto Sans CJK SC", sans-serif'>L</text>
<text x="588.60" y="192.40" font-size="12" text-anchor="middle" font-weight="bold" fill="#3a3a3a" font-family='"Liberation Sans", "Noto Sans CJK SC", sans-serif'>B</text>
<line x1="373.00" y1="176.30" x2="620.00" y2="176.30" stroke="#4a4a4a" stroke-width="0.5" stroke-dasharray="14 2 2 2"/>
<line x1="315.00" y1="67.20" x2="469.10" y2="67.20" stroke="#4a4a4a" stroke-width="0.64"/>
<line x1="315.00" y1="285.50" x2="469.10" y2="285.50" stroke="#4a4a4a" stroke-width="0.64"/>
<line x1="317.20" y1="67.20" x2="317.20" y2="285.50" stroke="#3a3a3a" stroke-width="0.9"/>
<polygon points="317.20,67.20 318.75,73.70 315.65,73.70" fill="#2e2e2e"/>
<polygon points="317.20,285.50 315.65,279.00 318.75,279.00" fill="#2e2e2e"/>
<line x1="331.50" y1="72.30" x2="469.10" y2="72.30" stroke="#4a4a4a" stroke-width="0.64"/>
<line x1="331.50" y1="280.00" x2="469.10" y2="280.00" stroke="#4a4a4a" stroke-width="0.64"/>
<line x1="333.70" y1="72.30" x2="333.70" y2="280.00" stroke="#4a4a4a" stroke-width="0.64"/>
<polygon points="333.70,72.30 335.25,78.80 332.15,78.80" fill="#2e2e2e"/>
<polygon points="333.70,280.00 332.15,273.50 335.25,273.50" fill="#2e2e2e"/>
<line x1="347.40" y1="77.80" x2="457.60" y2="77.80" stroke="#4a4a4a" stroke-width="0.64"/>
<line x1="347.40" y1="274.60" x2="469.40" y2="274.60" stroke="#4a4a4a" stroke-width="0.64"/>
<line x1="349.60" y1="77.80" x2="349.60" y2="274.60" stroke="#4a4a4a" stroke-width="0.64"/>
<polygon points="349.60,77.80 351.15,84.30 348.05,84.30" fill="#2e2e2e"/>
<polygon points="349.60,274.60 348.05,268.10 351.15,268.10" fill="#2e2e2e"/>
<line x1="362.50" y1="145.70" x2="381.50" y2="145.70" stroke="#4a4a4a" stroke-width="0.64"/>
<line x1="362.50" y1="207.00" x2="381.50" y2="207.00" stroke="#4a4a4a" stroke-width="0.64"/>
<line x1="365.00" y1="145.70" x2="365.00" y2="207.00" stroke="#4a4a4a" stroke-width="0.64"/>
<polygon points="365.00,145.70 366.55,152.20 363.45,152.20" fill="#2e2e2e"/>
<polygon points="365.00,207.00 363.45,200.50 366.55,200.50" fill="#2e2e2e"/>
<text x="315.60" y="178.60" font-size="10.3" text-anchor="middle" textLength="24.50" lengthAdjust="spacingAndGlyphs" transform="rotate(-90 315.60 178.60)" fill="#595959" font-family='"Liberation Sans", "Noto Sans CJK SC", sans-serif'>Φ 739</text>
<text x="331.90" y="179.00" font-size="10.3" text-anchor="middle" textLength="48.00" lengthAdjust="spacingAndGlyphs" transform="rotate(-90 331.90 179.00)" fill="#595959" font-family='"Liberation Sans", "Noto Sans CJK SC", sans-serif'>Φ 702 ± 0.2</text>
<text x="346.60" y="179.00" font-size="10.3" text-anchor="middle" textLength="33.00" lengthAdjust="spacingAndGlyphs" transform="rotate(-90 346.60 179.00)" fill="#595959" font-family='"Liberation Sans", "Noto Sans CJK SC", sans-serif'>Φ 667f7</text>
<text x="363.20" y="178.50" font-size="10.3" text-anchor="middle" textLength="24.50" lengthAdjust="spacingAndGlyphs" transform="rotate(-90 363.20 178.50)" fill="#595959" font-family='"Liberation Sans", "Noto Sans CJK SC", sans-serif'>Φ 210</text>
<line x1="562.30" y1="120.50" x2="635.20" y2="120.50" stroke="#4a4a4a" stroke-width="0.64"/>
<line x1="562.80" y1="232.40" x2="635.70" y2="232.40" stroke="#4a4a4a" stroke-width="0.64"/>
<line x1="633.20" y1="120.50" x2="633.20" y2="232.40" stroke="#4a4a4a" stroke-width="0.64"/>
<polygon points="633.20,120.50 634.75,127.00 631.65,127.00" fill="#2e2e2e"/>
<polygon points="633.20,232.40 631.65,225.90 634.75,225.90" fill="#2e2e2e"/>
<line x1="524.00" y1="77.90" x2="650.40" y2="77.90" stroke="#4a4a4a" stroke-width="0.64"/>
<line x1="524.00" y1="274.60" x2="650.90" y2="274.60" stroke="#4a4a4a" stroke-width="0.64"/>
<line x1="647.50" y1="77.90" x2="647.50" y2="274.60" stroke="#4a4a4a" stroke-width="0.64"/>
<polygon points="647.50,77.90 649.05,84.40 645.95,84.40" fill="#2e2e2e"/>
<polygon points="647.50,274.60 645.95,268.10 649.05,268.10" fill="#2e2e2e"/>
<text x="631.20" y="178.60" font-size="10.6" text-anchor="middle" textLength="24.50" lengthAdjust="spacingAndGlyphs" transform="rotate(-90 631.20 178.60)" fill="#595959" font-family='"Liberation Sans", "Noto Sans CJK SC", sans-serif'>Φ 380</text>
<text x="645.20" y="178.60" font-size="10.6" text-anchor="middle" textLength="24.50" lengthAdjust="spacingAndGlyphs" transform="rotate(-90 645.20 178.60)" fill="#595959" font-family='"Liberation Sans", "Noto Sans CJK SC", sans-serif'>Φ 662</text>
<text x="363.00" y="118.60" font-size="9.4" textLength="55.40" lengthAdjust="spacingAndGlyphs" fill="#595959" font-family='"Liberation Sans", "Noto Sans CJK SC", sans-serif'>2-<tspan font-size="8.27">键</tspan>C50 × 165</text>
<text x="368.60" y="128.60" font-size="9.4" textLength="44.60" lengthAdjust="spacingAndGlyphs" fill="#595959" font-family='"Liberation Sans", "Noto Sans CJK SC", sans-serif'>GB1096-79</text>
<line x1="366.00" y1="131.40" x2="410.00" y2="131.40" stroke="#4a4a4a" stroke-width="0.64"/>
<line x1="410.00" y1="131.40" x2="420.50" y2="170.50" stroke="#4a4a4a" stroke-width="0.64"/>
<line x1="381.30" y1="207.00" x2="381.30" y2="345.40" stroke="#4a4a4a" stroke-width="0.64"/>
<line x1="432.50" y1="215.60" x2="432.50" y2="329.60" stroke="#4a4a4a" stroke-width="0.64"/>
<line x1="429.90" y1="207.00" x2="429.90" y2="236.50" stroke="#4a4a4a" stroke-width="0.64"/>
<line x1="457.40" y1="274.60" x2="457.40" y2="301.30" stroke="#4a4a4a" stroke-width="0.64"/>
<line x1="469.40" y1="285.50" x2="469.40" y2="345.40" stroke="#888" stroke-width="0.64"/>
<line x1="480.50" y1="285.50" x2="480.50" y2="302.30" stroke="#4a4a4a" stroke-width="0.64"/>
<line x1="588.50" y1="201.60" x2="588.50" y2="317.90" stroke="#222" stroke-width="0.9"/>
<line x1="614.40" y1="203.00" x2="614.40" y2="332.00" stroke="#4a4a4a" stroke-width="0.64"/>
<line x1="381.30" y1="234.40" x2="429.90" y2="234.40" stroke="#4a4a4a" stroke-width="0.64"/>
<polygon points="381.30,234.40 387.80,232.85 387.80,235.95" fill="#2e2e2e"/>
<polygon points="429.90,234.40 423.40,235.95 423.40,232.85" fill="#2e2e2e"/>
<text x="405.70" y="232.90" font-size="10.4" text-anchor="middle" textLength="15.20" lengthAdjust="spacingAndGlyphs" fill="#595959" font-family='"Liberation Sans", "Noto Sans CJK SC", sans-serif'>165</text>
<line x1="381.30" y1="252.00" x2="431.90" y2="252.00" stroke="#4a4a4a" stroke-width="0.64"/>
<polygon points="381.30,252.00 387.80,250.45 387.80,253.55" fill="#2e2e2e"/>
<polygon points="431.90,252.00 425.40,253.55 425.40,250.45" fill="#2e2e2e"/>
<text x="406.60" y="249.90" font-size="10.4" text-anchor="middle" textLength="15.60" lengthAdjust="spacingAndGlyphs" fill="#595959" font-family='"Liberation Sans", "Noto Sans CJK SC", sans-serif'>170</text>
<line x1="438.20" y1="300.20" x2="501.00" y2="300.20" stroke="#4a4a4a" stroke-width="0.64"/>
<polygon points="457.40,300.20 450.90,301.75 450.90,298.65" fill="#2e2e2e"/>
<polygon points="480.60,300.20 487.10,298.65 487.10,301.75" fill="#2e2e2e"/>
<circle cx="469.20" cy="300.20" r="0.80" fill="#333" stroke="#4a4a4a" stroke-width="0"/>
<text x="446.60" y="298.70" font-size="10.4" text-anchor="middle" textLength="11.20" lengthAdjust="spacingAndGlyphs" fill="#595959" font-family='"Liberation Sans", "Noto Sans CJK SC", sans-serif'>40</text>
<text x="494.50" y="298.70" font-size="10.4" text-anchor="middle" textLength="11.20" lengthAdjust="spacingAndGlyphs" fill="#595959" font-family='"Liberation Sans", "Noto Sans CJK SC", sans-serif'>40</text>
<line x1="432.50" y1="315.00" x2="469.40" y2="315.00" stroke="#4a4a4a" stroke-width="0.64"/>
<polygon points="432.50,315.00 439.00,313.45 439.00,316.55" fill="#2e2e2e"/>
<polygon points="469.40,315.00 462.90,316.55 462.90,313.45" fill="#2e2e2e"/>
<text x="452.00" y="312.90" font-size="10.4" text-anchor="middle" textLength="15.00" lengthAdjust="spacingAndGlyphs" fill="#595959" font-family='"Liberation Sans", "Noto Sans CJK SC", sans-serif'>124</text>
<line x1="469.40" y1="315.00" x2="588.50" y2="315.00" stroke="#4a4a4a" stroke-width="0.64"/>
<polygon points="469.40,315.00 475.90,313.45 475.90,316.55" fill="#2e2e2e"/>
<polygon points="588.50,315.00 582.00,316.55 582.00,313.45" fill="#2e2e2e"/>
<text x="529.70" y="312.90" font-size="10.4" text-anchor="middle" textLength="24.00" lengthAdjust="spacingAndGlyphs" fill="#595959" font-family='"Liberation Sans", "Noto Sans CJK SC", sans-serif'>390.5</text>
<line x1="432.50" y1="328.20" x2="614.40" y2="328.20" stroke="#4a4a4a" stroke-width="0.64"/>
<polygon points="432.50,328.20 439.00,326.65 439.00,329.75" fill="#2e2e2e"/>
<polygon points="614.40,328.20 607.90,329.75 607.90,326.65" fill="#2e2e2e"/>
<text x="522.70" y="326.60" font-size="10.4" text-anchor="middle" textLength="24.00" lengthAdjust="spacingAndGlyphs" fill="#595959" font-family='"Liberation Sans", "Noto Sans CJK SC", sans-serif'>580.5</text>
<line x1="381.30" y1="343.40" x2="469.40" y2="343.40" stroke="#4a4a4a" stroke-width="0.64"/>
<polygon points="381.30,343.40 387.80,341.85 387.80,344.95" fill="#2e2e2e"/>
<polygon points="469.40,343.40 462.90,344.95 462.90,341.85" fill="#2e2e2e"/>
<text x="425.80" y="340.70" font-size="10.4" text-anchor="middle" textLength="15.20" lengthAdjust="spacingAndGlyphs" fill="#595959" font-family='"Liberation Sans", "Noto Sans CJK SC", sans-serif'>297</text>
</svg>
</figure>
<svg class="spec-table" role="img" aria-label="参数表" width="790" height="120" viewBox="0 360 790 120" style="top:360px">
<line x1="7.10" y1="373.40" x2="771.90" y2="373.40" stroke="#9c9c9c" stroke-width="1.1"/>
<line x1="7.10" y1="464.70" x2="771.90" y2="464.70" stroke="#a8a8a8" stroke-width="1.3"/>
<line x1="7.10" y1="443.40" x2="771.90" y2="443.40" stroke="#858585" stroke-width="0.6"/>
<line x1="287.60" y1="402.20" x2="678.40" y2="402.20" stroke="#858585" stroke-width="0.6"/>
<line x1="220.30" y1="373.40" x2="220.30" y2="464.70" stroke="#858585" stroke-width="0.6"/>
<line x1="287.60" y1="373.40" x2="287.60" y2="464.70" stroke="#858585" stroke-width="0.6"/>
<line x1="398.60" y1="373.40" x2="398.60" y2="464.70" stroke="#858585" stroke-width="0.6"/>
<line x1="517.30" y1="373.40" x2="517.30" y2="464.70" stroke="#858585" stroke-width="0.6"/>
<line x1="678.40" y1="373.40" x2="678.40" y2="464.70" stroke="#858585" stroke-width="0.6"/>
<line x1="341.30" y1="402.20" x2="341.30" y2="464.70" stroke="#858585" stroke-width="0.6"/>
<line x1="458.90" y1="402.20" x2="458.90" y2="464.70" stroke="#858585" stroke-width="0.6"/>
<line x1="598.60" y1="402.20" x2="598.60" y2="464.70" stroke="#858585" stroke-width="0.6"/>
<text x="109.50" y="411.60" font-size="13.4" text-anchor="middle" textLength="41.80" lengthAdjust="spacingAndGlyphs" font-weight="500" stroke="#3c3c3c" stroke-width="0.25" fill="#3c3c3c" font-family='"Liberation Sans", "Noto Sans CJK SC", sans-serif'>型　号</text>
<text x="254.80" y="402.40" font-size="12.8" text-anchor="middle" textLength="39.70" lengthAdjust="spacingAndGlyphs" font-weight="500" stroke="#3c3c3c" stroke-width="0.25" fill="#3c3c3c" font-family='"Liberation Sans", "Noto Sans CJK SC", sans-serif'>总排量</text>
<text x="254.70" y="420.60" font-size="14.4" text-anchor="middle" textLength="28.40" lengthAdjust="spacingAndGlyphs" stroke="#333" stroke-width="0.35" fill="#333" font-family='"Liberation Sans", "Noto Sans CJK SC", sans-serif'>ml/r</text>
<text x="342.80" y="393.00" font-size="12.8" text-anchor="middle" textLength="93.20" lengthAdjust="spacingAndGlyphs" font-weight="500" stroke="#3c3c3c" stroke-width="0.25" fill="#3c3c3c" font-family='"Liberation Sans", "Noto Sans CJK SC", sans-serif'>工作压力 <tspan font-size="14.34">(Mpa)</tspan></text>
<text x="459.60" y="393.00" font-size="12.8" text-anchor="middle" textLength="97.70" lengthAdjust="spacingAndGlyphs" font-weight="500" stroke="#3c3c3c" stroke-width="0.25" fill="#3c3c3c" font-family='"Liberation Sans", "Noto Sans CJK SC", sans-serif'>输出扭矩 <tspan font-size="14.34">(N.m)</tspan></text>
<text x="599.10" y="393.00" font-size="12.8" text-anchor="middle" textLength="74.00" lengthAdjust="spacingAndGlyphs" font-weight="500" stroke="#3c3c3c" stroke-width="0.25" fill="#3c3c3c" font-family='"Liberation Sans", "Noto Sans CJK SC", sans-serif'>转速 <tspan font-size="14.34">(r/min)</tspan></text>
<text x="314.50" y="426.70" font-size="12.8" text-anchor="middle" textLength="25.50" lengthAdjust="spacingAndGlyphs" font-weight="500" stroke="#3c3c3c" stroke-width="0.25" fill="#3c3c3c" font-family='"Liberation Sans", "Noto Sans CJK SC", sans-serif'>额定</text>
<text x="371.20" y="426.70" font-size="12.8" text-anchor="middle" textLength="26.00" lengthAdjust="spacingAndGlyphs" font-weight="500" stroke="#3c3c3c" stroke-width="0.25" fill="#3c3c3c" font-family='"Liberation Sans", "Noto Sans CJK SC", sans-serif'>最高</text>
<text x="429.20" y="426.70" font-size="12.8" text-anchor="middle" textLength="26.40" lengthAdjust="spacingAndGlyphs" font-weight="500" stroke="#3c3c3c" stroke-width="0.25" fill="#3c3c3c" font-family='"Liberation Sans", "Noto Sans CJK SC", sans-serif'>额定</text>
<text x="488.10" y="426.70" font-size="12.8" text-anchor="middle" textLength="26.60" lengthAdjust="spacingAndGlyphs" font-weight="500" stroke="#3c3c3c" stroke-width="0.25" fill="#3c3c3c" font-family='"Liberation Sans", "Noto Sans CJK SC", sans-serif'>最大</text>
<text x="558.40" y="426.70" font-size="12.8" text-anchor="middle" textLength="53.20" lengthAdjust="spacingAndGlyphs" font-weight="500" stroke="#3c3c3c" stroke-width="0.25" fill="#3c3c3c" font-family='"Liberation Sans", "Noto Sans CJK SC", sans-serif'>转速范围</text>
<text x="639.60" y="426.70" font-size="12.8" text-anchor="middle" textLength="52.70" lengthAdjust="spacingAndGlyphs" font-weight="500" stroke="#3c3c3c" stroke-width="0.25" fill="#3c3c3c" font-family='"Liberation Sans", "Noto Sans CJK SC", sans-serif'>额定转速</text>
<text x="725.40" y="397.00" font-size="12.8" text-anchor="middle" textLength="72.40" lengthAdjust="spacingAndGlyphs" font-weight="500" stroke="#3c3c3c" stroke-width="0.25" fill="#3c3c3c" font-family='"Liberation Sans", "Noto Sans CJK SC", sans-serif'>行星减速器</text>
<text x="725.20" y="414.60" font-size="12.8" text-anchor="middle" textLength="27.40" lengthAdjust="spacingAndGlyphs" font-weight="500" stroke="#3c3c3c" stroke-width="0.25" fill="#3c3c3c" font-family='"Liberation Sans", "Noto Sans CJK SC", sans-serif'>型号</text>
<text x="109.60" y="459.10" font-size="12.2" text-anchor="middle" textLength="154.40" lengthAdjust="spacingAndGlyphs" fill="#6a6a6a" font-family='"Liberation Sans", "Noto Sans CJK SC", sans-serif'>HZ25/0-50000-m7i7.5P210</text>
<text x="255.00" y="459.10" font-size="12.2" text-anchor="middle" textLength="33.10" lengthAdjust="spacingAndGlyphs" fill="#6a6a6a" font-family='"Liberation Sans", "Noto Sans CJK SC", sans-serif'>18735</text>
<text x="314.50" y="459.10" font-size="12.2" text-anchor="middle" textLength="13.90" lengthAdjust="spacingAndGlyphs" fill="#6a6a6a" font-family='"Liberation Sans", "Noto Sans CJK SC", sans-serif'>20</text>
<text x="371.30" y="459.10" font-size="12.2" text-anchor="middle" textLength="13.40" lengthAdjust="spacingAndGlyphs" fill="#6a6a6a" font-family='"Liberation Sans", "Noto Sans CJK SC", sans-serif'>25</text>
<text x="429.90" y="459.10" font-size="12.2" text-anchor="middle" textLength="34.20" lengthAdjust="spacingAndGlyphs" fill="#6a6a6a" font-family='"Liberation Sans", "Noto Sans CJK SC", sans-serif'>48000</text>
<text x="487.60" y="459.10" font-size="12.2" text-anchor="middle" textLength="34.20" lengthAdjust="spacingAndGlyphs" fill="#6a6a6a" font-family='"Liberation Sans", "Noto Sans CJK SC", sans-serif'>60000</text>
<text x="558.10" y="459.10" font-size="12.2" text-anchor="middle" textLength="28.40" lengthAdjust="spacingAndGlyphs" fill="#6a6a6a" font-family='"Liberation Sans", "Noto Sans CJK SC", sans-serif'>0-10</text>
<text x="639.60" y="459.10" font-size="12.2" text-anchor="middle" fill="#6a6a6a" font-family='"Liberation Sans", "Noto Sans CJK SC", sans-serif'>7</text>
<text x="724.90" y="459.10" font-size="12.2" text-anchor="middle" textLength="36.70" lengthAdjust="spacingAndGlyphs" fill="#6a6a6a" font-family='"Liberation Sans", "Noto Sans CJK SC", sans-serif'>m7i7.5</text>
</svg>
</section>
<section class="product" id="model-special">
<header>
<svg class="heading" role="img" aria-label="HZ25-50000-m46i10 特殊型号" width="790" height="45" viewBox="0 500 790 45" style="top:500px">
<rect x="7.00" y="515.60" width="13.80" height="13.40" fill="#352d2e" stroke="none" stroke-width="0"/>
<text x="31.40" y="530.40" font-size="21.4" textLength="217.40" lengthAdjust="spacingAndGlyphs" stroke="#352d2e" stroke-width="0.9" fill="#352d2e" font-family='"Liberation Sans", "Noto Sans CJK SC", sans-serif'>HZ25-50000-m46i10</text>
<text x="257.60" y="530.00" font-size="17.2" textLength="71.20" lengthAdjust="spacingAndGlyphs" font-weight="bold" stroke="#352d2e" stroke-width="0.3" fill="#352d2e" font-family='"Liberation Sans", "Noto Sans CJK SC", sans-serif'>特殊型号</text>
</svg>
</header>
<figure>
<svg class="drawing" role="img" aria-label="外形尺寸图" width="790" height="355" viewBox="0 545 790 355" style="top:545px">
<circle cx="123.50" cy="695.20" r="97.70" fill="#e5e5e5" stroke="#4a4a4a" stroke-width="0.7"/>
<circle cx="123.50" cy="695.20" r="91.40" fill="none" stroke="#4a4a4a" stroke-width="0.4"/>
<circle cx="123.50" cy="695.20" r="85.00" fill="none" stroke="#4a4a4a" stroke-width="0.6"/>
<circle cx="123.50" cy="603.80" r="3.20" fill="#e5e5e5" stroke="#4a4a4a" stroke-width="0.65"/>
<line x1="123.50" y1="608.60" x2="123.50" y2="599.00" stroke="#4a4a4a" stroke-width="0.4"/>
<line x1="119.34" y1="603.80" x2="127.66" y2="603.80" stroke="#4a4a4a" stroke-width="0.4"/>
<circle cx="139.37" cy="605.19" r="3.20" fill="#e5e5e5" stroke="#4a4a4a" stroke-width="0.65"/>
<line x1="138.54" y1="609.92" x2="140.20" y2="600.46" stroke="#4a4a4a" stroke-width="0.4"/>
<line x1="135.27" y1="604.47" x2="143.47" y2="605.91" stroke="#4a4a4a" stroke-width="0.4"/>
<circle cx="154.76" cy="609.31" r="3.20" fill="#e5e5e5" stroke="#4a4a4a" stroke-width="0.65"/>
<line x1="153.12" y1="613.82" x2="156.40" y2="604.80" stroke="#4a4a4a" stroke-width="0.4"/>
<line x1="150.85" y1="607.89" x2="158.67" y2="610.73" stroke="#4a4a4a" stroke-width="0.4"/>
<circle cx="169.20" cy="616.05" r="3.20" fill="#e5e5e5" stroke="#4a4a4a" stroke-width="0.65"/>
<line x1="166.80" y1="620.20" x2="171.60" y2="611.89" stroke="#4a4a4a" stroke-width="0.4"/>
<line x1="165.60" y1="613.97" x2="172.80" y2="618.13" stroke="#4a4a4a" stroke-width="0.4"/>
<circle cx="182.25" cy="625.18" r="3.20" fill="#e5e5e5" stroke="#4a4a4a" stroke-width="0.65"/>
<line x1="179.17" y1="628.86" x2="185.34" y2="621.51" stroke="#4a4a4a" stroke-width="0.4"/>
<line x1="179.06" y1="622.51" x2="185.44" y2="627.86" stroke="#4a4a4a" stroke-width="0.4"/>
<circle cx="193.52" cy="636.45" r="3.20" fill="#e5e5e5" stroke="#4a4a4a" stroke-width="0.65"/>
<line x1="189.84" y1="639.53" x2="197.19" y2="633.36" stroke="#4a4a4a" stroke-width="0.4"/>
<line x1="190.84" y1="633.26" x2="196.19" y2="639.64" stroke="#4a4a4a" stroke-width="0.4"/>
<circle cx="202.65" cy="649.50" r="3.20" fill="#e5e5e5" stroke="#4a4a4a" stroke-width="0.65"/>
<line x1="198.50" y1="651.90" x2="206.81" y2="647.10" stroke="#4a4a4a" stroke-width="0.4"/>
<line x1="200.57" y1="645.90" x2="204.73" y2="653.10" stroke="#4a4a4a" stroke-width="0.4"/>
<circle cx="209.39" cy="663.94" r="3.20" fill="#e5e5e5" stroke="#4a4a4a" stroke-width="0.65"/>
<line x1="204.88" y1="665.58" x2="213.90" y2="662.30" stroke="#4a4a4a" stroke-width="0.4"/>
<line x1="207.97" y1="660.03" x2="210.81" y2="667.85" stroke="#4a4a4a" stroke-width="0.4"/>
<circle cx="213.51" cy="679.33" r="3.20" fill="#e5e5e5" stroke="#4a4a4a" stroke-width="0.65"/>
<line x1="208.78" y1="680.16" x2="218.24" y2="678.50" stroke="#4a4a4a" stroke-width="0.4"/>
<line x1="212.79" y1="675.23" x2="214.23" y2="683.43" stroke="#4a4a4a" stroke-width="0.4"/>
<circle cx="214.90" cy="695.20" r="3.20" fill="#e5e5e5" stroke="#4a4a4a" stroke-width="0.65"/>
<line x1="210.10" y1="695.20" x2="219.70" y2="695.20" stroke="#4a4a4a" stroke-width="0.4"/>
<line x1="214.90" y1="691.04" x2="214.90" y2="699.36" stroke="#4a4a4a" stroke-width="0.4"/>
<circle cx="213.51" cy="711.07" r="3.20" fill="#e5e5e5" stroke="#4a4a4a" stroke-width="0.65"/>
<line x1="208.78" y1="710.24" x2="218.24" y2="711.90" stroke="#4a4a4a" stroke-width="0.4"/>
<line x1="214.23" y1="706.97" x2="212.79" y2="715.17" stroke="#4a4a4a" stroke-width="0.4"/>
<circle cx="209.39" cy="726.46" r="3.20" fill="#e5e5e5" stroke="#4a4a4a" stroke-width="0.65"/>
<line x1="204.88" y1="724.82" x2="213.90" y2="728.10" stroke="#4a4a4a" stroke-width="0.4"/>
<line x1="210.81" y1="722.55" x2="207.97" y2="730.37" stroke="#4a4a4a" stroke-width="0.4"/>
<circle cx="202.65" cy="740.90" r="3.20" fill="#e5e5e5" stroke="#4a4a4a" stroke-width="0.65"/>
<line x1="198.50" y1="738.50" x2="206.81" y2="743.30" stroke="#4a4a4a" stroke-width="0.4"/>
<line x1="204.73" y1="737.30" x2="200.57" y2="744.50" stroke="#4a4a4a" stroke-width="0.4"/>
<circle cx="193.52" cy="753.95" r="3.20" fill="#e5e5e5" stroke="#4a4a4a" stroke-width="0.65"/>
<line x1="189.84" y1="750.87" x2="197.19" y2="757.04" stroke="#4a4a4a" stroke-width="0.4"/>
<line x1="196.19" y1="750.76" x2="190.84" y2="757.14" stroke="#4a4a4a" stroke-width="0.4"/>
<circle cx="182.25" cy="765.22" r="3.20" fill="#e5e5e5" stroke="#4a4a4a" stroke-width="0.65"/>
<line x1="179.17" y1="761.54" x2="185.34" y2="768.89" stroke="#4a4a4a" stroke-width="0.4"/>
<line x1="185.44" y1="762.54" x2="179.06" y2="767.89" stroke="#4a4a4a" stroke-width="0.4"/>
<circle cx="169.20" cy="774.35" r="3.20" fill="#e5e5e5" stroke="#4a4a4a" stroke-width="0.65"/>
<line x1="166.80" y1="770.20" x2="171.60" y2="778.51" stroke="#4a4a4a" stroke-width="0.4"/>
<line x1="172.80" y1="772.27" x2="165.60" y2="776.43" stroke="#4a4a4a" stroke-width="0.4"/>
<circle cx="154.76" cy="781.09" r="3.20" fill="#e5e5e5" stroke="#4a4a4a" stroke-width="0.65"/>
<line x1="153.12" y1="776.58" x2="156.40" y2="785.60" stroke="#4a4a4a" stroke-width="0.4"/>
<line x1="158.67" y1="779.67" x2="150.85" y2="782.51" stroke="#4a4a4a" stroke-width="0.4"/>
<circle cx="139.37" cy="785.21" r="3.20" fill="#e5e5e5" stroke="#4a4a4a" stroke-width="0.65"/>
<line x1="138.54" y1="780.48" x2="140.20" y2="789.94" stroke="#4a4a4a" stroke-width="0.4"/>
<line x1="143.47" y1="784.49" x2="135.27" y2="785.93" stroke="#4a4a4a" stroke-width="0.4"/>
<circle cx="123.50" cy="786.60" r="3.20" fill="#e5e5e5" stroke="#4a4a4a" stroke-width="0.65"/>
<line x1="123.50" y1="781.80" x2="123.50" y2="791.40" stroke="#4a4a4a" stroke-width="0.4"/>
<line x1="127.66" y1="786.60" x2="119.34" y2="786.60" stroke="#4a4a4a" stroke-width="0.4"/>
<circle cx="107.63" cy="785.21" r="3.20" fill="#e5e5e5" stroke="#4a4a4a" stroke-width="0.65"/>
<line x1="108.46" y1="780.48" x2="106.80" y2="789.94" stroke="#4a4a4a" stroke-width="0.4"/>
<line x1="111.73" y1="785.93" x2="103.53" y2="784.49" stroke="#4a4a4a" stroke-width="0.4"/>
<circle cx="92.24" cy="781.09" r="3.20" fill="#e5e5e5" stroke="#4a4a4a" stroke-width="0.65"/>
<line x1="93.88" y1="776.58" x2="90.60" y2="785.60" stroke="#4a4a4a" stroke-width="0.4"/>
<line x1="96.15" y1="782.51" x2="88.33" y2="779.67" stroke="#4a4a4a" stroke-width="0.4"/>
<circle cx="77.80" cy="774.35" r="3.20" fill="#e5e5e5" stroke="#4a4a4a" stroke-width="0.65"/>
<line x1="80.20" y1="770.20" x2="75.40" y2="778.51" stroke="#4a4a4a" stroke-width="0.4"/>
<line x1="81.40" y1="776.43" x2="74.20" y2="772.27" stroke="#4a4a4a" stroke-width="0.4"/>
<circle cx="64.75" cy="765.22" r="3.20" fill="#e5e5e5" stroke="#4a4a4a" stroke-width="0.65"/>
<line x1="67.83" y1="761.54" x2="61.66" y2="768.89" stroke="#4a4a4a" stroke-width="0.4"/>
<line x1="67.94" y1="767.89" x2="61.56" y2="762.54" stroke="#4a4a4a" stroke-width="0.4"/>
<circle cx="53.48" cy="753.95" r="3.20" fill="#e5e5e5" stroke="#4a4a4a" stroke-width="0.65"/>
<line x1="57.16" y1="750.87" x2="49.81" y2="757.04" stroke="#4a4a4a" stroke-width="0.4"/>
<line x1="56.16" y1="757.14" x2="50.81" y2="750.76" stroke="#4a4a4a" stroke-width="0.4"/>
<circle cx="44.35" cy="740.90" r="3.20" fill="#e5e5e5" stroke="#4a4a4a" stroke-width="0.65"/>
<line x1="48.50" y1="738.50" x2="40.19" y2="743.30" stroke="#4a4a4a" stroke-width="0.4"/>
<line x1="46.43" y1="744.50" x2="42.27" y2="737.30" stroke="#4a4a4a" stroke-width="0.4"/>
<circle cx="37.61" cy="726.46" r="3.20" fill="#e5e5e5" stroke="#4a4a4a" stroke-width="0.65"/>
<line x1="42.12" y1="724.82" x2="33.10" y2="728.10" stroke="#4a4a4a" stroke-width="0.4"/>
<line x1="39.03" y1="730.37" x2="36.19" y2="722.55" stroke="#4a4a4a" stroke-width="0.4"/>
<circle cx="33.49" cy="711.07" r="3.20" fill="#e5e5e5" stroke="#4a4a4a" stroke-width="0.65"/>
<line x1="38.22" y1="710.24" x2="28.76" y2="711.90" stroke="#4a4a4a" stroke-width="0.4"/>
<line x1="34.21" y1="715.17" x2="32.77" y2="706.97" stroke="#4a4a4a" stroke-width="0.4"/>
<circle cx="32.10" cy="695.20" r="3.20" fill="#e5e5e5" stroke="#4a4a4a" stroke-width="0.65"/>
<line x1="36.90" y1="695.20" x2="27.30" y2="695.20" stroke="#4a4a4a" stroke-width="0.4"/>
<line x1="32.10" y1="699.36" x2="32.10" y2="691.04" stroke="#4a4a4a" stroke-width="0.4"/>
<circle cx="33.49" cy="679.33" r="3.20" fill="#e5e5e5" stroke="#4a4a4a" stroke-width="0.65"/>
<line x1="38.22" y1="680.16" x2="28.76" y2="678.50" stroke="#4a4a4a" stroke-width="0.4"/>
<line x1="32.77" y1="683.43" x2="34.21" y2="675.23" stroke="#4a4a4a" stroke-width="0.4"/>
<circle cx="37.61" cy="663.94" r="3.20" fill="#e5e5e5" stroke="#4a4a4a" stroke-width="0.65"/>
<line x1="42.12" y1="665.58" x2="33.10" y2="662.30" stroke="#4a4a4a" stroke-width="0.4"/>
<line x1="36.19" y1="667.85" x2="39.03" y2="660.03" stroke="#4a4a4a" stroke-width="0.4"/>
<circle cx="44.35" cy="649.50" r="3.20" fill="#e5e5e5" stroke="#4a4a4a" stroke-width="0.65"/>
<line x1="48.50" y1="651.90" x2="40.19" y2="647.10" stroke="#4a4a4a" stroke-width="0.4"/>
<line x1="42.27" y1="653.10" x2="46.43" y2="645.90" stroke="#4a4a4a" stroke-width="0.4"/>
<circle cx="53.48" cy="636.45" r="3.20" fill="#e5e5e5" stroke="#4a4a4a" stroke-width="0.65"/>
<line x1="57.16" y1="639.53" x2="49.81" y2="633.36" stroke="#4a4a4a" stroke-width="0.4"/>
<line x1="50.81" y1="639.64" x2="56.16" y2="633.26" stroke="#4a4a4a" stroke-width="0.4"/>
<circle cx="64.75" cy="625.18" r="3.20" fill="#e5e5e5" stroke="#4a4a4a" stroke-width="0.65"/>
<line x1="67.83" y1="628.86" x2="61.66" y2="621.51" stroke="#4a4a4a" stroke-width="0.4"/>
<line x1="61.56" y1="627.86" x2="67.94" y2="622.51" stroke="#4a4a4a" stroke-width="0.4"/>
<circle cx="77.80" cy="616.05" r="3.20" fill="#e5e5e5" stroke="#4a4a4a" stroke-width="0.65"/>
<line x1="80.20" y1="620.20" x2="75.40" y2="611.89" stroke="#4a4a4a" stroke-width="0.4"/>
<line x1="74.20" y1="618.13" x2="81.40" y2="613.97" stroke="#4a4a4a" stroke-width="0.4"/>
<circle cx="92.24" cy="609.31" r="3.20" fill="#e5e5e5" stroke="#4a4a4a" stroke-width="0.65"/>
<line x1="93.88" y1="613.82" x2="90.60" y2="604.80" stroke="#4a4a4a" stroke-width="0.4"/>
<line x1="88.33" y1="610.73" x2="96.15" y2="607.89" stroke="#4a4a4a" stroke-width="0.4"/>
<circle cx="107.63" cy="605.19" r="3.20" fill="#e5e5e5" stroke="#4a4a4a" stroke-width="0.65"/>
<line x1="108.46" y1="609.92" x2="106.80" y2="600.46" stroke="#4a4a4a" stroke-width="0.4"/>
<line x1="103.53" y1="605.91" x2="111.73" y2="604.47" stroke="#4a4a4a" stroke-width="0.4"/>
<path d="M65.90,644.86 A76.50,76.50 0 0 1 181.10,644.86 A529.22,529.22 0 0 1 181.10,745.54 A76.50,76.50 0 0 1 65.90,745.54 A529.22,529.22 0 0 1 65.90,644.86 Z" fill="#e5e5e5" stroke="#4a4a4a" stroke-width="0.7" />
<path d="M67.60,647.86 A529.22,529.22 0 0 0 67.60,742.54 M179.40,647.86 A529.22,529.22 0 0 1 179.40,742.54" fill="none" stroke="#4a4a4a" stroke-width="0.5" />
<path d="M66.40,673.74 A61.00,61.00 0 0 1 180.60,673.74 M180.60,716.66 A61.00,61.00 0 0 1 66.40,716.66" fill="none" stroke="#4a4a4a" stroke-width="0.7" />
<path d="M73.87,647.27 A69.00,69.00 0 0 1 173.13,647.27" fill="none" stroke="#4a4a4a" stroke-width="0.4" stroke-dasharray="6 1.5 1 1.5" />
<circle cx="77.33" cy="643.92" r="3.50" fill="#e5e5e5" stroke="#4a4a4a" stroke-width="0.65"/>
<line x1="80.74" y1="647.71" x2="73.92" y2="640.13" stroke="#4a4a4a" stroke-width="0.4"/>
<line x1="74.02" y1="646.91" x2="80.64" y2="640.94" stroke="#4a4a4a" stroke-width="0.4"/>
<circle cx="89.00" cy="635.44" r="3.50" fill="#e5e5e5" stroke="#4a4a4a" stroke-width="0.65"/>
<line x1="91.55" y1="639.86" x2="86.45" y2="631.03" stroke="#4a4a4a" stroke-width="0.4"/>
<line x1="85.14" y1="637.67" x2="92.86" y2="633.21" stroke="#4a4a4a" stroke-width="0.4"/>
<circle cx="102.18" cy="629.58" r="3.50" fill="#e5e5e5" stroke="#4a4a4a" stroke-width="0.65"/>
<line x1="103.75" y1="634.43" x2="100.60" y2="624.73" stroke="#4a4a4a" stroke-width="0.4"/>
<line x1="97.94" y1="630.96" x2="106.42" y2="628.20" stroke="#4a4a4a" stroke-width="0.4"/>
<circle cx="116.29" cy="626.58" r="3.50" fill="#e5e5e5" stroke="#4a4a4a" stroke-width="0.65"/>
<line x1="116.82" y1="631.65" x2="115.75" y2="621.51" stroke="#4a4a4a" stroke-width="0.4"/>
<line x1="111.85" y1="627.04" x2="120.72" y2="626.11" stroke="#4a4a4a" stroke-width="0.4"/>
<circle cx="130.71" cy="626.58" r="3.50" fill="#e5e5e5" stroke="#4a4a4a" stroke-width="0.65"/>
<line x1="130.18" y1="631.65" x2="131.25" y2="621.51" stroke="#4a4a4a" stroke-width="0.4"/>
<line x1="126.28" y1="626.11" x2="135.15" y2="627.04" stroke="#4a4a4a" stroke-width="0.4"/>
<circle cx="144.82" cy="629.58" r="3.50" fill="#e5e5e5" stroke="#4a4a4a" stroke-width="0.65"/>
<line x1="143.25" y1="634.43" x2="146.40" y2="624.73" stroke="#4a4a4a" stroke-width="0.4"/>
<line x1="140.58" y1="628.20" x2="149.06" y2="630.96" stroke="#4a4a4a" stroke-width="0.4"/>
<circle cx="158.00" cy="635.44" r="3.50" fill="#e5e5e5" stroke="#4a4a4a" stroke-width="0.65"/>
<line x1="155.45" y1="639.86" x2="160.55" y2="631.03" stroke="#4a4a4a" stroke-width="0.4"/>
<line x1="154.14" y1="633.21" x2="161.86" y2="637.67" stroke="#4a4a4a" stroke-width="0.4"/>
<circle cx="169.67" cy="643.92" r="3.50" fill="#e5e5e5" stroke="#4a4a4a" stroke-width="0.65"/>
<line x1="166.26" y1="647.71" x2="173.08" y2="640.13" stroke="#4a4a4a" stroke-width="0.4"/>
<line x1="166.36" y1="640.94" x2="172.98" y2="646.91" stroke="#4a4a4a" stroke-width="0.4"/>
<path d="M173.13,743.13 A69.00,69.00 0 0 1 73.87,743.13" fill="none" stroke="#4a4a4a" stroke-width="0.4" stroke-dasharray="6 1.5 1 1.5" />
<circle cx="169.67" cy="746.48" r="3.50" fill="#e5e5e5" stroke="#4a4a4a" stroke-width="0.65"/>
<line x1="166.26" y1="742.69" x2="173.08" y2="750.27" stroke="#4a4a4a" stroke-width="0.4"/>
<line x1="172.98" y1="743.49" x2="166.36" y2="749.46" stroke="#4a4a4a" stroke-width="0.4"/>
<circle cx="158.00" cy="754.96" r="3.50" fill="#e5e5e5" stroke="#4a4a4a" stroke-width="0.65"/>
<line x1="155.45" y1="750.54" x2="160.55" y2="759.37" stroke="#4a4a4a" stroke-width="0.4"/>
<line x1="161.86" y1="752.73" x2="154.14" y2="757.19" stroke="#4a4a4a" stroke-width="0.4"/>
<circle cx="144.82" cy="760.82" r="3.50" fill="#e5e5e5" stroke="#4a4a4a" stroke-width="0.65"/>
<line x1="143.25" y1="755.97" x2="146.40" y2="765.67" stroke="#4a4a4a" stroke-width="0.4"/>
<line x1="149.06" y1="759.44" x2="140.58" y2="762.20" stroke="#4a4a4a" stroke-width="0.4"/>
<circle cx="130.71" cy="763.82" r="3.50" fill="#e5e5e5" stroke="#4a4a4a" stroke-width="0.65"/>
<line x1="130.18" y1="758.75" x2="131.25" y2="768.89" stroke="#4a4a4a" stroke-width="0.4"/>
<line x1="135.15" y1="763.36" x2="126.28" y2="764.29" stroke="#4a4a4a" stroke-width="0.4"/>
<circle cx="116.29" cy="763.82" r="3.50" fill="#e5e5e5" stroke="#4a4a4a" stroke-width="0.65"/>
<line x1="116.82" y1="758.75" x2="115.75" y2="768.89" stroke="#4a4a4a" stroke-width="0.4"/>
<line x1="120.72" y1="764.29" x2="111.85" y2="763.36" stroke="#4a4a4a" stroke-width="0.4"/>
<circle cx="102.18" cy="760.82" r="3.50" fill="#e5e5e5" stroke="#4a4a4a" stroke-width="0.65"/>
<line x1="103.75" y1="755.97" x2="100.60" y2="765.67" stroke="#4a4a4a" stroke-width="0.4"/>
<line x1="106.42" y1="762.20" x2="97.94" y2="759.44" stroke="#4a4a4a" stroke-width="0.4"/>
<circle cx="89.00" cy="754.96" r="3.50" fill="#e5e5e5" stroke="#4a4a4a" stroke-width="0.65"/>
<line x1="91.55" y1="750.54" x2="86.45" y2="759.37" stroke="#4a4a4a" stroke-width="0.4"/>
<line x1="92.86" y1="757.19" x2="85.14" y2="752.73" stroke="#4a4a4a" stroke-width="0.4"/>
<circle cx="77.33" cy="746.48" r="3.50" fill="#e5e5e5" stroke="#4a4a4a" stroke-width="0.65"/>
<line x1="80.74" y1="742.69" x2="73.92" y2="750.27" stroke="#4a4a4a" stroke-width="0.4"/>
<line x1="80.64" y1="749.46" x2="74.02" y2="743.49" stroke="#4a4a4a" stroke-width="0.4"/>
<circle cx="123.50" cy="695.20" r="54.80" fill="none" stroke="#4a4a4a" stroke-width="0.4" stroke-dasharray="7 1.5 1 1.5"/>
<circle cx="89.76" cy="652.02" r="2.90" fill="#cfcfcf" stroke="#4a4a4a" stroke-width="0.6"/>
<circle cx="89.76" cy="652.02" r="1.59" fill="none" stroke="#4a4a4a" stroke-width="0.5"/>
<line x1="92.47" y1="655.48" x2="87.05" y2="648.55" stroke="#4a4a4a" stroke-width="0.4"/>
<line x1="86.53" y1="654.54" x2="92.99" y2="649.49" stroke="#4a4a4a" stroke-width="0.4"/>
<circle cx="102.97" cy="644.39" r="2.90" fill="#cfcfcf" stroke="#4a4a4a" stroke-width="0.6"/>
<circle cx="102.97" cy="644.39" r="1.59" fill="none" stroke="#4a4a4a" stroke-width="0.5"/>
<line x1="104.62" y1="648.47" x2="101.32" y2="640.31" stroke="#4a4a4a" stroke-width="0.4"/>
<line x1="99.17" y1="645.93" x2="106.77" y2="642.85" stroke="#4a4a4a" stroke-width="0.4"/>
<circle cx="144.03" cy="644.39" r="2.90" fill="#cfcfcf" stroke="#4a4a4a" stroke-width="0.6"/>
<circle cx="144.03" cy="644.39" r="1.59" fill="none" stroke="#4a4a4a" stroke-width="0.5"/>
<line x1="142.38" y1="648.47" x2="145.68" y2="640.31" stroke="#4a4a4a" stroke-width="0.4"/>
<line x1="140.23" y1="642.85" x2="147.83" y2="645.93" stroke="#4a4a4a" stroke-width="0.4"/>
<circle cx="157.24" cy="652.02" r="2.90" fill="#cfcfcf" stroke="#4a4a4a" stroke-width="0.6"/>
<circle cx="157.24" cy="652.02" r="1.59" fill="none" stroke="#4a4a4a" stroke-width="0.5"/>
<line x1="154.53" y1="655.48" x2="159.95" y2="648.55" stroke="#4a4a4a" stroke-width="0.4"/>
<line x1="154.01" y1="649.49" x2="160.47" y2="654.54" stroke="#4a4a4a" stroke-width="0.4"/>
<circle cx="157.24" cy="738.38" r="2.90" fill="#cfcfcf" stroke="#4a4a4a" stroke-width="0.6"/>
<circle cx="157.24" cy="738.38" r="1.59" fill="none" stroke="#4a4a4a" stroke-width="0.5"/>
<line x1="154.53" y1="734.92" x2="159.95" y2="741.85" stroke="#4a4a4a" stroke-width="0.4"/>
<line x1="160.47" y1="735.86" x2="154.01" y2="740.91" stroke="#4a4a4a" stroke-width="0.4"/>
<circle cx="144.03" cy="746.01" r="2.90" fill="#cfcfcf" stroke="#4a4a4a" stroke-width="0.6"/>
<circle cx="144.03" cy="746.01" r="1.59" fill="none" stroke="#4a4a4a" stroke-width="0.5"/>
<line x1="142.38" y1="741.93" x2="145.68" y2="750.09" stroke="#4a4a4a" stroke-width="0.4"/>
<line x1="147.83" y1="744.47" x2="140.23" y2="747.55" stroke="#4a4a4a" stroke-width="0.4"/>
<circle cx="102.97" cy="746.01" r="2.90" fill="#cfcfcf" stroke="#4a4a4a" stroke-width="0.6"/>
<circle cx="102.97" cy="746.01" r="1.59" fill="none" stroke="#4a4a4a" stroke-width="0.5"/>
<line x1="104.62" y1="741.93" x2="101.32" y2="750.09" stroke="#4a4a4a" stroke-width="0.4"/>
<line x1="106.77" y1="747.55" x2="99.17" y2="744.47" stroke="#4a4a4a" stroke-width="0.4"/>
<circle cx="89.76" cy="738.38" r="2.90" fill="#cfcfcf" stroke="#4a4a4a" stroke-width="0.6"/>
<circle cx="89.76" cy="738.38" r="1.59" fill="none" stroke="#4a4a4a" stroke-width="0.5"/>
<line x1="92.47" y1="734.92" x2="87.05" y2="741.85" stroke="#4a4a4a" stroke-width="0.4"/>
<line x1="92.99" y1="740.91" x2="86.53" y2="735.86" stroke="#4a4a4a" stroke-width="0.4"/>
<circle cx="177.63" cy="686.63" r="2.90" fill="#cfcfcf" stroke="#4a4a4a" stroke-width="0.6"/>
<circle cx="177.63" cy="686.63" r="1.59" fill="none" stroke="#4a4a4a" stroke-width="0.5"/>
<line x1="173.28" y1="687.32" x2="181.97" y2="685.94" stroke="#4a4a4a" stroke-width="0.4"/>
<line x1="176.98" y1="682.58" x2="178.27" y2="690.68" stroke="#4a4a4a" stroke-width="0.4"/>
<circle cx="177.63" cy="703.77" r="2.90" fill="#cfcfcf" stroke="#4a4a4a" stroke-width="0.6"/>
<circle cx="177.63" cy="703.77" r="1.59" fill="none" stroke="#4a4a4a" stroke-width="0.5"/>
<line x1="173.28" y1="703.08" x2="181.97" y2="704.46" stroke="#4a4a4a" stroke-width="0.4"/>
<line x1="178.27" y1="699.72" x2="176.98" y2="707.82" stroke="#4a4a4a" stroke-width="0.4"/>
<circle cx="69.37" cy="703.77" r="2.90" fill="#cfcfcf" stroke="#4a4a4a" stroke-width="0.6"/>
<circle cx="69.37" cy="703.77" r="1.59" fill="none" stroke="#4a4a4a" stroke-width="0.5"/>
<line x1="73.72" y1="703.08" x2="65.03" y2="704.46" stroke="#4a4a4a" stroke-width="0.4"/>
<line x1="70.02" y1="707.82" x2="68.73" y2="699.72" stroke="#4a4a4a" stroke-width="0.4"/>
<circle cx="69.37" cy="686.63" r="2.90" fill="#cfcfcf" stroke="#4a4a4a" stroke-width="0.6"/>
<circle cx="69.37" cy="686.63" r="1.59" fill="none" stroke="#4a4a4a" stroke-width="0.5"/>
<line x1="73.72" y1="687.32" x2="65.03" y2="685.94" stroke="#4a4a4a" stroke-width="0.4"/>
<line x1="68.73" y1="690.68" x2="70.02" y2="682.58" stroke="#4a4a4a" stroke-width="0.4"/>
<circle cx="123.50" cy="695.20" r="37.20" fill="#e5e5e5" stroke="#4a4a4a" stroke-width="0.6"/>
<rect x="85.10" y="671.30" width="13.10" height="47.40" fill="#e5e5e5" stroke="#4a4a4a" stroke-width="0.6"/>
<line x1="86.30" y1="671.30" x2="86.30" y2="718.70" stroke="#4a4a4a" stroke-width="0.4"/>
<line x1="85.10" y1="675.10" x2="98.20" y2="675.10" stroke="#4a4a4a" stroke-width="0.5"/>
<line x1="85.10" y1="714.90" x2="98.20" y2="714.90" stroke="#4a4a4a" stroke-width="0.5"/>
<circle cx="123.50" cy="695.20" r="32.00" fill="#e5e5e5" stroke="#4a4a4a" stroke-width="0.6"/>
<circle cx="123.50" cy="695.20" r="26.80" fill="none" stroke="#4a4a4a" stroke-width="0.6"/>
<circle cx="123.50" cy="695.20" r="23.50" fill="none" stroke="#4a4a4a" stroke-width="0.4" stroke-dasharray="5 1.5 1 1.5"/>
<circle cx="135.25" cy="674.85" r="1.90" fill="#cfcfcf" stroke="#4a4a4a" stroke-width="0.6"/>
<circle cx="135.25" cy="674.85" r="0.90" fill="none" stroke="#4a4a4a" stroke-width="0.4"/>
<circle cx="147.00" cy="695.20" r="1.90" fill="#cfcfcf" stroke="#4a4a4a" stroke-width="0.6"/>
<circle cx="147.00" cy="695.20" r="0.90" fill="none" stroke="#4a4a4a" stroke-width="0.4"/>
<circle cx="135.25" cy="715.55" r="1.90" fill="#cfcfcf" stroke="#4a4a4a" stroke-width="0.6"/>
<circle cx="135.25" cy="715.55" r="0.90" fill="none" stroke="#4a4a4a" stroke-width="0.4"/>
<circle cx="111.75" cy="715.55" r="1.90" fill="#cfcfcf" stroke="#4a4a4a" stroke-width="0.6"/>
<circle cx="111.75" cy="715.55" r="0.90" fill="none" stroke="#4a4a4a" stroke-width="0.4"/>
<circle cx="100.00" cy="695.20" r="1.90" fill="#cfcfcf" stroke="#4a4a4a" stroke-width="0.6"/>
<circle cx="100.00" cy="695.20" r="0.90" fill="none" stroke="#4a4a4a" stroke-width="0.4"/>
<circle cx="111.75" cy="674.85" r="1.90" fill="#cfcfcf" stroke="#4a4a4a" stroke-width="0.6"/>
<circle cx="111.75" cy="674.85" r="0.90" fill="none" stroke="#4a4a4a" stroke-width="0.4"/>
<circle cx="123.50" cy="650.30" r="4.40" fill="#e5e5e5" stroke="#4a4a4a" stroke-width="0.6"/>
<circle cx="123.50" cy="650.30" r="2.55" fill="none" stroke="#4a4a4a" stroke-width="0.5"/>
<text x="118.30" y="654.90" font-size="11.5" text-anchor="end" font-weight="bold" fill="#3a3a3a" font-family='"Liberation Sans", "Noto Sans CJK SC", sans-serif'>L</text>
<circle cx="123.50" cy="740.50" r="4.40" fill="#e5e5e5" stroke="#4a4a4a" stroke-width="0.6"/>
<circle cx="123.50" cy="740.50" r="2.55" fill="none" stroke="#4a4a4a" stroke-width="0.5"/>
<text x="130.30" y="745.10" font-size="11.5" font-weight="bold" fill="#3a3a3a" font-family='"Liberation Sans", "Noto Sans CJK SC", sans-serif'>L</text>
<line x1="19.70" y1="695.20" x2="227.00" y2="695.20" stroke="#4a4a4a" stroke-width="0.5" stroke-dasharray="14 2 2 2"/>
<line x1="123.50" y1="600.00" x2="123.50" y2="797.00" stroke="#4a4a4a" stroke-width="0.5" stroke-dasharray="14 2 2 2"/>
<text x="28.00" y="810.80" font-size="11.6" textLength="61.50" lengthAdjust="spacingAndGlyphs" fill="#595959" font-family='"Liberation Sans", "Noto Sans CJK SC", sans-serif'>2-M18 × 1.5</text>
<text x="59.30" y="822.40" font-size="11.6" text-anchor="middle" textLength="21.50" lengthAdjust="spacingAndGlyphs" fill="#595959" font-family='"Liberation Sans", "Noto Sans CJK SC", sans-serif'><tspan font-size="10.21">深</tspan>14</text>
<line x1="26.30" y1="826.20" x2="94.80" y2="826.20" stroke="#4a4a4a" stroke-width="0.64"/>
<line x1="94.80" y1="826.20" x2="122.40" y2="746.20" stroke="#4a4a4a" stroke-width="0.64"/>
<polygon points="122.40,746.20 121.74,751.79 119.47,751.01" fill="#2e2e2e"/>
<text x="178.80" y="810.80" font-size="11.6" textLength="71.40" lengthAdjust="spacingAndGlyphs" fill="#595959" font-family='"Liberation Sans", "Noto Sans CJK SC", sans-serif'>16-Φ22.5<tspan font-size="10.21">均布</tspan></text>
<text x="214.00" y="822.00" font-size="11.6" text-anchor="middle" textLength="21.50" lengthAdjust="spacingAndGlyphs" fill="#595959" font-family='"Liberation Sans", "Noto Sans CJK SC", sans-serif'>通孔</text>
<line x1="173.80" y1="826.20" x2="245.20" y2="826.20" stroke="#4a4a4a" stroke-width="0.64"/>
<line x1="173.80" y1="826.20" x2="159.60" y2="756.10" stroke="#4a4a4a" stroke-width="0.64"/>
<polygon points="159.60,756.10 161.87,761.25 159.52,761.73" fill="#2e2e2e"/>
<defs><pattern id="hat" width="2.2" height="2.2" patternUnits="userSpaceOnUse" patternTransform="rotate(45)"><rect width="2.2" height="2.2" fill="#e8e8e8"/><line x1="0" y1="0" x2="0" y2="2.2" stroke="#3c3c3c" stroke-width="0.8"/></pattern></defs>
<rect x="381.30" y="668.50" width="64.90" height="52.50" fill="#e5e5e5" stroke="#4a4a4a" stroke-width="0.72"/>
<rect x="386.60" y="689.20" width="57.40" height="12.30" fill="#e8e8e8" stroke="#4a4a4a" stroke-width="0.72" rx="6.1"/>
<rect x="447.00" y="648.40" width="5.80" height="93.00" fill="#e5e5e5" stroke="#4a4a4a" stroke-width="0.72"/>
<line x1="446.80" y1="665.30" x2="446.80" y2="724.20" stroke="#555" stroke-width="1.0"/>
<polygon points="452.80,635.20 463.70,635.20 463.70,755.60 454.60,755.60 452.80,752.80" fill="#e5e5e5" stroke="#4a4a4a" stroke-width="0.72" stroke-linejoin="miter"/>
<line x1="455.30" y1="635.20" x2="455.30" y2="755.60" stroke="#4a4a4a" stroke-width="0.5"/>
<line x1="452.80" y1="635.20" x2="452.80" y2="752.80" stroke="#555" stroke-width="0.9"/>
<rect x="463.70" y="597.60" width="11.80" height="195.60" fill="#e5e5e5" stroke="#4a4a4a" stroke-width="0.72"/>
<rect x="475.50" y="609.50" width="72.20" height="171.80" fill="#e5e5e5" stroke="#4a4a4a" stroke-width="0.72"/>
<line x1="490.00" y1="609.50" x2="490.00" y2="781.30" stroke="#4a4a4a" stroke-width="0.6"/>
<line x1="488.80" y1="609.50" x2="488.80" y2="781.30" stroke="#999" stroke-width="0.4"/>
<line x1="515.50" y1="609.50" x2="515.50" y2="781.30" stroke="#4a4a4a" stroke-width="0.6"/>
<rect x="547.70" y="615.70" width="8.10" height="159.40" fill="#e5e5e5" stroke="#777" stroke-width="0.5"/>
<rect x="555.80" y="611.90" width="12.90" height="167.00" fill="#e5e5e5" stroke="#4a4a4a" stroke-width="0.72"/>
<rect x="568.70" y="618.70" width="9.90" height="153.40" fill="#e5e5e5" stroke="#4a4a4a" stroke-width="0.5"/>
<rect x="578.80" y="619.20" width="7.80" height="11.40" fill="#e5e5e5" stroke="#4a4a4a" stroke-width="0.5"/>
<path d="M585.2,622.60 A2.3,2.3 0 1 0 585.2,627.20" fill="none" stroke="#333" stroke-width="0.8" />
<line x1="582.00" y1="624.90" x2="587.60" y2="624.90" stroke="#4a4a4a" stroke-width="0.5"/>
<line x1="584.00" y1="621.90" x2="584.00" y2="627.90" stroke="#4a4a4a" stroke-width="0.5"/>
<rect x="578.80" y="759.80" width="7.80" height="11.40" fill="#e5e5e5" stroke="#4a4a4a" stroke-width="0.5"/>
<path d="M585.2,763.20 A2.3,2.3 0 1 0 585.2,767.80" fill="none" stroke="#333" stroke-width="0.8" />
<line x1="582.00" y1="765.50" x2="587.60" y2="765.50" stroke="#4a4a4a" stroke-width="0.5"/>
<line x1="584.00" y1="762.50" x2="584.00" y2="768.50" stroke="#4a4a4a" stroke-width="0.5"/>
<rect x="578.60" y="631.60" width="39.00" height="127.60" fill="#e5e5e5" stroke="#4a4a4a" stroke-width="0.72"/>
<line x1="579.80" y1="631.60" x2="579.80" y2="759.20" stroke="#999" stroke-width="0.4"/>
<rect x="463.70" y="781.00" width="11.80" height="12.00" fill="url(#hat)" stroke="#4a4a4a" stroke-width="0.5"/>
<rect x="463.70" y="783.60" width="11.80" height="6.40" fill="#e6e6e6" stroke="#4a4a4a" stroke-width="0.4"/>
<path d="M463.7,761.2 Q486,763 501.5,781.0 L463.7,781.0 Z" fill="url(#hat)" stroke="#4a4a4a" stroke-width="0.5" />
<rect x="463.70" y="770.00" width="7.70" height="10.60" fill="#ececec" stroke="#4a4a4a" stroke-width="0.4"/>
<line x1="471.60" y1="769.60" x2="471.60" y2="781.00" stroke="#333" stroke-width="1.0"/>
<line x1="461.00" y1="774.60" x2="499.00" y2="774.60" stroke="#999" stroke-width="0.5" stroke-dasharray="5 1.5 1 1.5"/>
<rect x="474.80" y="775.00" width="26.20" height="2.20" fill="#e6e6e6" stroke="none" stroke-width="0"/>
<rect x="617.60" y="660.50" width="34.80" height="68.80" fill="#e5e5e5" stroke="#4a4a4a" stroke-width="0.72"/>
<line x1="617.60" y1="667.20" x2="652.40" y2="667.20" stroke="#4a4a4a" stroke-width="0.5"/>
<line x1="617.60" y1="723.50" x2="652.40" y2="723.50" stroke="#4a4a4a" stroke-width="0.5"/>
<polygon points="652.40,660.50 656.30,663.00 656.30,726.80 652.40,729.30" fill="#e5e5e5" stroke="#4a4a4a" stroke-width="0.5" stroke-linejoin="miter"/>
<rect x="656.30" y="663.00" width="3.20" height="63.80" fill="#e5e5e5" stroke="#4a4a4a" stroke-width="0.5"/>
<rect x="659.50" y="665.30" width="3.20" height="59.10" fill="#e5e5e5" stroke="#4a4a4a" stroke-width="0.5"/>
<line x1="371.00" y1="695.40" x2="668.00" y2="695.40" stroke="#4a4a4a" stroke-width="0.5" stroke-dasharray="14 2 2 2"/>
<circle cx="632.30" cy="676.70" r="3.20" fill="#e5e5e5" stroke="#4a4a4a" stroke-width="0.6"/>
<line x1="632.30" y1="672.70" x2="632.30" y2="680.70" stroke="#4a4a4a" stroke-width="0.5"/>
<circle cx="630.00" cy="695.20" r="3.50" fill="#e5e5e5" stroke="#4a4a4a" stroke-width="0.6"/>
<line x1="630.00" y1="690.90" x2="630.00" y2="699.50" stroke="#4a4a4a" stroke-width="0.5"/>
<circle cx="638.00" cy="713.20" r="3.50" fill="#e5e5e5" stroke="#4a4a4a" stroke-width="0.6"/>
<line x1="638.00" y1="708.90" x2="638.00" y2="717.50" stroke="#4a4a4a" stroke-width="0.5"/>
<circle cx="623.00" cy="670.40" r="1.30" fill="#999" stroke="#4a4a4a" stroke-width="0.4"/>
<line x1="620.80" y1="670.40" x2="625.20" y2="670.40" stroke="#4a4a4a" stroke-width="0.4"/>
<line x1="623.00" y1="668.20" x2="623.00" y2="672.60" stroke="#4a4a4a" stroke-width="0.4"/>
<circle cx="643.90" cy="670.40" r="1.30" fill="#999" stroke="#4a4a4a" stroke-width="0.4"/>
<line x1="641.70" y1="670.40" x2="646.10" y2="670.40" stroke="#4a4a4a" stroke-width="0.4"/>
<line x1="643.90" y1="668.20" x2="643.90" y2="672.60" stroke="#4a4a4a" stroke-width="0.4"/>
<circle cx="623.00" cy="683.40" r="1.30" fill="#999" stroke="#4a4a4a" stroke-width="0.4"/>
<line x1="620.80" y1="683.40" x2="625.20" y2="683.40" stroke="#4a4a4a" stroke-width="0.4"/>
<line x1="623.00" y1="681.20" x2="623.00" y2="685.60" stroke="#4a4a4a" stroke-width="0.4"/>
<circle cx="643.80" cy="683.60" r="1.30" fill="#999" stroke="#4a4a4a" stroke-width="0.4"/>
<line x1="641.60" y1="683.60" x2="646.00" y2="683.60" stroke="#4a4a4a" stroke-width="0.4"/>
<line x1="643.80" y1="681.40" x2="643.80" y2="685.80" stroke="#4a4a4a" stroke-width="0.4"/>
<circle cx="629.70" cy="706.50" r="1.30" fill="#999" stroke="#4a4a4a" stroke-width="0.4"/>
<line x1="627.50" y1="706.50" x2="631.90" y2="706.50" stroke="#4a4a4a" stroke-width="0.4"/>
<line x1="629.70" y1="704.30" x2="629.70" y2="708.70" stroke="#4a4a4a" stroke-width="0.4"/>
<circle cx="647.10" cy="706.50" r="1.30" fill="#999" stroke="#4a4a4a" stroke-width="0.4"/>
<line x1="644.90" y1="706.50" x2="649.30" y2="706.50" stroke="#4a4a4a" stroke-width="0.4"/>
<line x1="647.10" y1="704.30" x2="647.10" y2="708.70" stroke="#4a4a4a" stroke-width="0.4"/>
<circle cx="629.70" cy="719.50" r="1.30" fill="#999" stroke="#4a4a4a" stroke-width="0.4"/>
<line x1="627.50" y1="719.50" x2="631.90" y2="719.50" stroke="#4a4a4a" stroke-width="0.4"/>
<line x1="629.70" y1="717.30" x2="629.70" y2="721.70" stroke="#4a4a4a" stroke-width="0.4"/>
<circle cx="647.10" cy="719.50" r="1.30" fill="#999" stroke="#4a4a4a" stroke-width="0.4"/>
<line x1="644.90" y1="719.50" x2="649.30" y2="719.50" stroke="#4a4a4a" stroke-width="0.4"/>
<line x1="647.10" y1="717.30" x2="647.10" y2="721.70" stroke="#4a4a4a" stroke-width="0.4"/>
<text x="637.60" y="685.80" font-size="10.5" text-anchor="middle" font-weight="bold" fill="#333" font-family='"Liberation Sans", "Noto Sans CJK SC", sans-serif'>A</text>
<text x="635.80" y="699.60" font-size="10.5" font-weight="bold" fill="#333" font-family='"Liberation Sans", "Noto Sans CJK SC", sans-serif'>L</text>
<text x="646.40" y="717.60" font-size="10.5" text-anchor="middle" font-weight="bold" fill="#333" font-family='"Liberation Sans", "Noto Sans CJK SC", sans-serif'>B</text>
<line x1="295.20" y1="597.30" x2="475.00" y2="597.30" stroke="#4a4a4a" stroke-width="0.64"/>
<line x1="295.20" y1="792.60" x2="463.70" y2="792.60" stroke="#4a4a4a" stroke-width="0.64"/>
<line x1="296.50" y1="597.30" x2="296.50" y2="792.60" stroke="#4a4a4a" stroke-width="0.64"/>
<polygon points="296.50,597.30 298.05,603.80 294.95,603.80" fill="#2e2e2e"/>
<polygon points="296.50,792.60 294.95,786.10 298.05,786.10" fill="#2e2e2e"/>
<line x1="309.50" y1="603.70" x2="478.70" y2="603.70" stroke="#4a4a4a" stroke-width="0.64"/>
<line x1="309.50" y1="786.60" x2="478.00" y2="786.60" stroke="#4a4a4a" stroke-width="0.64"/>
<line x1="310.90" y1="603.70" x2="310.90" y2="786.60" stroke="#4a4a4a" stroke-width="0.64"/>
<polygon points="310.90,603.70 312.45,610.20 309.35,610.20" fill="#2e2e2e"/>
<polygon points="310.90,786.60 309.35,780.10 312.45,780.10" fill="#2e2e2e"/>
<line x1="323.60" y1="609.50" x2="472.40" y2="609.50" stroke="#4a4a4a" stroke-width="0.64"/>
<line x1="323.60" y1="781.00" x2="463.70" y2="781.00" stroke="#4a4a4a" stroke-width="0.64"/>
<line x1="325.00" y1="609.50" x2="325.00" y2="781.00" stroke="#4a4a4a" stroke-width="0.64"/>
<polygon points="325.00,609.50 326.55,616.00 323.45,616.00" fill="#2e2e2e"/>
<polygon points="325.00,781.00 323.45,774.50 326.55,774.50" fill="#2e2e2e"/>
<line x1="338.60" y1="635.30" x2="453.40" y2="635.30" stroke="#4a4a4a" stroke-width="0.64"/>
<line x1="338.60" y1="755.30" x2="454.70" y2="755.30" stroke="#4a4a4a" stroke-width="0.64"/>
<line x1="340.00" y1="635.30" x2="340.00" y2="755.30" stroke="#4a4a4a" stroke-width="0.64"/>
<polygon points="340.00,635.30 341.55,641.80 338.45,641.80" fill="#2e2e2e"/>
<polygon points="340.00,755.30 338.45,748.80 341.55,748.80" fill="#2e2e2e"/>
<line x1="352.80" y1="668.50" x2="381.30" y2="668.50" stroke="#4a4a4a" stroke-width="0.64"/>
<line x1="352.80" y1="721.00" x2="381.30" y2="721.00" stroke="#4a4a4a" stroke-width="0.64"/>
<line x1="354.20" y1="668.50" x2="354.20" y2="721.00" stroke="#4a4a4a" stroke-width="0.64"/>
<polygon points="354.20,668.50 355.75,675.00 352.65,675.00" fill="#2e2e2e"/>
<polygon points="354.20,721.00 352.65,714.50 355.75,714.50" fill="#2e2e2e"/>
<line x1="364.00" y1="682.20" x2="383.80" y2="682.20" stroke="#4a4a4a" stroke-width="0.64"/>
<line x1="364.00" y1="707.00" x2="383.80" y2="707.00" stroke="#4a4a4a" stroke-width="0.64"/>
<line x1="365.30" y1="682.20" x2="365.30" y2="707.00" stroke="#4a4a4a" stroke-width="0.64"/>
<polygon points="365.30,682.20 366.85,688.70 363.75,688.70" fill="#2e2e2e"/>
<polygon points="365.30,707.00 363.75,700.50 366.85,700.50" fill="#2e2e2e"/>
<text x="295.00" y="696.80" font-size="11.2" text-anchor="middle" textLength="28.00" lengthAdjust="spacingAndGlyphs" transform="rotate(-90 295.00 696.80)" fill="#595959" font-family='"Liberation Sans", "Noto Sans CJK SC", sans-serif'>Φ 625</text>
<text x="309.50" y="696.80" font-size="11.2" text-anchor="middle" textLength="28.00" lengthAdjust="spacingAndGlyphs" transform="rotate(-90 309.50 696.80)" fill="#595959" font-family='"Liberation Sans", "Noto Sans CJK SC", sans-serif'>Φ 585</text>
<text x="323.80" y="696.80" font-size="11.2" text-anchor="middle" textLength="28.00" lengthAdjust="spacingAndGlyphs" transform="rotate(-90 323.80 696.80)" fill="#595959" font-family='"Liberation Sans", "Noto Sans CJK SC", sans-serif'>Φ 550</text>
<text x="338.60" y="697.40" font-size="11.2" text-anchor="middle" textLength="39.20" lengthAdjust="spacingAndGlyphs" transform="rotate(-90 338.60 697.40)" fill="#595959" font-family='"Liberation Sans", "Noto Sans CJK SC", sans-serif'>Φ 385h7</text>
<text x="352.60" y="695.70" font-size="8.0" text-anchor="middle" textLength="33.40" lengthAdjust="spacingAndGlyphs" transform="rotate(-90 352.60 695.70)" fill="#595959" font-family='"Liberation Sans", "Noto Sans CJK SC", sans-serif'>Φ 107h7</text>
<text x="363.50" y="694.70" font-size="8.6" text-anchor="middle" textLength="10.20" lengthAdjust="spacingAndGlyphs" transform="rotate(-90 363.50 694.70)" fill="#595959" font-family='"Liberation Sans", "Noto Sans CJK SC", sans-serif'>80</text>
<text x="358.60" y="568.60" font-size="9.8" textLength="44.90" lengthAdjust="spacingAndGlyphs" fill="#595959" font-family='"Liberation Sans", "Noto Sans CJK SC", sans-serif'><tspan font-size="8.62">键</tspan>40 × 190</text>
<text x="358.20" y="580.70" font-size="9.8" textLength="50.70" lengthAdjust="spacingAndGlyphs" fill="#595959" font-family='"Liberation Sans", "Noto Sans CJK SC", sans-serif'>GB1096-79</text>
<line x1="357.90" y1="583.30" x2="415.80" y2="583.30" stroke="#4a4a4a" stroke-width="0.64"/>
<line x1="415.80" y1="583.30" x2="433.70" y2="695.60" stroke="#4a4a4a" stroke-width="0.64"/>
<line x1="440.20" y1="584.60" x2="476.40" y2="584.60" stroke="#4a4a4a" stroke-width="0.64"/>
<polygon points="452.40,584.60 445.90,586.15 445.90,583.05" fill="#2e2e2e"/>
<polygon points="463.40,584.60 469.90,583.05 469.90,586.15" fill="#2e2e2e"/>
<text x="458.00" y="581.40" font-size="11.4" text-anchor="middle" textLength="21.70" lengthAdjust="spacingAndGlyphs" fill="#595959" font-family='"Liberation Sans", "Noto Sans CJK SC", sans-serif'>32.5</text>
<line x1="452.40" y1="582.00" x2="452.40" y2="635.00" stroke="#4a4a4a" stroke-width="0.64"/>
<line x1="463.40" y1="582.00" x2="463.40" y2="597.30" stroke="#4a4a4a" stroke-width="0.64"/>
<text x="300.50" y="739.60" font-size="10.8" textLength="71.90" lengthAdjust="spacingAndGlyphs" fill="#595959" font-family='"Liberation Sans", "Noto Sans CJK SC", sans-serif'>2-M16<tspan font-size="9.50">钻</tspan>35<tspan font-size="9.50">攻</tspan>30</text>
<line x1="299.70" y1="741.30" x2="373.70" y2="741.30" stroke="#4a4a4a" stroke-width="0.64"/>
<line x1="373.70" y1="741.30" x2="382.50" y2="708.20" stroke="#4a4a4a" stroke-width="0.64"/>
<line x1="381.30" y1="721.00" x2="381.30" y2="882.30" stroke="#4a4a4a" stroke-width="0.64"/>
<line x1="386.60" y1="695.40" x2="386.60" y2="748.00" stroke="#7a7a7a" stroke-width="0.64"/>
<line x1="444.00" y1="695.40" x2="444.00" y2="748.00" stroke="#7a7a7a" stroke-width="0.64"/>
<line x1="446.60" y1="741.40" x2="446.60" y2="775.50" stroke="#4a4a4a" stroke-width="0.64"/>
<line x1="463.50" y1="792.60" x2="463.50" y2="867.40" stroke="#4a4a4a" stroke-width="0.64"/>
<line x1="475.50" y1="792.60" x2="475.50" y2="852.40" stroke="#4a4a4a" stroke-width="0.64"/>
<line x1="386.60" y1="746.00" x2="444.00" y2="746.00" stroke="#4a4a4a" stroke-width="0.64"/>
<polygon points="386.60,746.00 393.10,744.45 393.10,747.55" fill="#2e2e2e"/>
<polygon points="444.00,746.00 437.50,747.55 437.50,744.45" fill="#2e2e2e"/>
<text x="416.20" y="742.70" font-size="11.0" text-anchor="middle" textLength="17.70" lengthAdjust="spacingAndGlyphs" fill="#595959" font-family='"Liberation Sans", "Noto Sans CJK SC", sans-serif'>190</text>
<line x1="381.30" y1="773.70" x2="446.40" y2="773.70" stroke="#4a4a4a" stroke-width="0.64"/>
<polygon points="381.30,773.70 387.80,772.15 387.80,775.25" fill="#2e2e2e"/>
<polygon points="446.40,773.70 439.90,775.25 439.90,772.15" fill="#2e2e2e"/>
<text x="415.60" y="770.70" font-size="11.0" text-anchor="middle" textLength="17.50" lengthAdjust="spacingAndGlyphs" fill="#595959" font-family='"Liberation Sans", "Noto Sans CJK SC", sans-serif'>207</text>
<line x1="451.00" y1="849.20" x2="499.00" y2="849.20" stroke="#4a4a4a" stroke-width="0.64"/>
<polygon points="463.20,849.20 456.70,850.75 456.70,847.65" fill="#2e2e2e"/>
<polygon points="475.60,849.20 482.10,847.65 482.10,850.75" fill="#2e2e2e"/>
<text x="491.40" y="848.00" font-size="11.0" text-anchor="middle" textLength="12.50" lengthAdjust="spacingAndGlyphs" fill="#595959" font-family='"Liberation Sans", "Noto Sans CJK SC", sans-serif'>40</text>
<line x1="381.30" y1="863.40" x2="463.20" y2="863.40" stroke="#4a4a4a" stroke-width="0.64"/>
<polygon points="381.30,863.40 387.80,861.85 387.80,864.95" fill="#2e2e2e"/>
<polygon points="463.20,863.40 456.70,864.95 456.70,861.85" fill="#2e2e2e"/>
<text x="425.60" y="861.40" font-size="11.0" text-anchor="middle" textLength="17.70" lengthAdjust="spacingAndGlyphs" fill="#595959" font-family='"Liberation Sans", "Noto Sans CJK SC", sans-serif'>261</text>
<line x1="463.20" y1="863.40" x2="638.10" y2="863.40" stroke="#4a4a4a" stroke-width="0.64"/>
<polygon points="463.20,863.40 469.70,861.85 469.70,864.95" fill="#2e2e2e"/>
<polygon points="638.10,863.40 631.60,864.95 631.60,861.85" fill="#2e2e2e"/>
<text x="550.70" y="861.40" font-size="11.0" text-anchor="middle" textLength="27.40" lengthAdjust="spacingAndGlyphs" fill="#595959" font-family='"Liberation Sans", "Noto Sans CJK SC", sans-serif'>630.5</text>
<line x1="381.30" y1="878.60" x2="662.40" y2="878.60" stroke="#4a4a4a" stroke-width="0.64"/>
<polygon points="381.30,878.60 387.80,877.05 387.80,880.15" fill="#2e2e2e"/>
<polygon points="662.40,878.60 655.90,880.15 655.90,877.05" fill="#2e2e2e"/>
<text x="522.20" y="876.60" font-size="11.0" text-anchor="middle" textLength="17.00" lengthAdjust="spacingAndGlyphs" fill="#595959" font-family='"Liberation Sans", "Noto Sans CJK SC", sans-serif'>921</text>
<line x1="623.60" y1="683.40" x2="623.60" y2="853.90" stroke="#4a4a4a" stroke-width="0.64"/>
<line x1="629.80" y1="698.50" x2="629.80" y2="804.00" stroke="#3a3a3a" stroke-width="0.9"/>
<line x1="630.70" y1="800.00" x2="630.70" y2="821.70" stroke="#4a4a4a" stroke-width="0.64"/>
<line x1="638.10" y1="716.50" x2="638.10" y2="866.00" stroke="#4a4a4a" stroke-width="0.64"/>
<line x1="646.80" y1="721.50" x2="646.80" y2="852.00" stroke="#4a4a4a" stroke-width="0.64"/>
<line x1="662.50" y1="724.40" x2="662.50" y2="882.20" stroke="#4a4a4a" stroke-width="0.64"/>
<line x1="582.60" y1="803.40" x2="641.50" y2="803.40" stroke="#4a4a4a" stroke-width="0.64"/>
<polygon points="623.60,803.40 617.10,804.95 617.10,801.85" fill="#2e2e2e"/>
<polygon points="630.60,803.40 637.10,801.85 637.10,804.95" fill="#2e2e2e"/>
<text x="583.90" y="800.80" font-size="10.4" textLength="32.60" lengthAdjust="spacingAndGlyphs" fill="#595959" font-family='"Liberation Sans", "Noto Sans CJK SC", sans-serif'>20 ± 0.1</text>
<line x1="582.60" y1="819.40" x2="641.50" y2="819.40" stroke="#4a4a4a" stroke-width="0.64"/>
<polygon points="623.60,819.40 617.10,820.95 617.10,817.85" fill="#2e2e2e"/>
<polygon points="630.60,819.40 637.10,817.85 637.10,820.95" fill="#2e2e2e"/>
<text x="583.90" y="816.80" font-size="10.4" textLength="32.60" lengthAdjust="spacingAndGlyphs" fill="#595959" font-family='"Liberation Sans", "Noto Sans CJK SC", sans-serif'>23 ± 0.1</text>
<line x1="582.60" y1="834.40" x2="650.30" y2="834.40" stroke="#4a4a4a" stroke-width="0.64"/>
<polygon points="623.60,834.40 617.10,835.95 617.10,832.85" fill="#2e2e2e"/>
<polygon points="638.10,834.40 644.60,832.85 644.60,835.95" fill="#2e2e2e"/>
<text x="583.90" y="831.80" font-size="10.4" textLength="32.60" lengthAdjust="spacingAndGlyphs" fill="#595959" font-family='"Liberation Sans", "Noto Sans CJK SC", sans-serif'>48 ± 0.1</text>
<line x1="582.60" y1="849.30" x2="646.80" y2="849.30" stroke="#4a4a4a" stroke-width="0.64"/>
<polygon points="623.60,849.30 630.10,847.75 630.10,850.85" fill="#2e2e2e"/>
<polygon points="646.80,849.30 640.30,850.85 640.30,847.75" fill="#2e2e2e"/>
<text x="583.90" y="846.70" font-size="10.4" textLength="32.60" lengthAdjust="spacingAndGlyphs" fill="#595959" font-family='"Liberation Sans", "Noto Sans CJK SC", sans-serif'>76 ± 0.1</text>
<line x1="556.00" y1="611.60" x2="758.40" y2="611.60" stroke="#4a4a4a" stroke-width="0.7"/>
<line x1="556.00" y1="778.60" x2="758.40" y2="778.60" stroke="#4a4a4a" stroke-width="0.64"/>
<line x1="756.60" y1="611.60" x2="756.60" y2="778.60" stroke="#4a4a4a" stroke-width="0.64"/>
<polygon points="756.60,611.60 758.15,618.10 755.05,618.10" fill="#2e2e2e"/>
<polygon points="756.60,778.60 755.05,772.10 758.15,772.10" fill="#2e2e2e"/>
<line x1="617.80" y1="631.60" x2="744.40" y2="631.60" stroke="#4a4a4a" stroke-width="0.64"/>
<line x1="617.80" y1="758.40" x2="744.40" y2="758.40" stroke="#4a4a4a" stroke-width="0.64"/>
<line x1="742.70" y1="631.60" x2="742.70" y2="758.40" stroke="#4a4a4a" stroke-width="0.64"/>
<polygon points="742.70,631.60 744.25,638.10 741.15,638.10" fill="#2e2e2e"/>
<polygon points="742.70,758.40 741.15,751.90 744.25,751.90" fill="#2e2e2e"/>
<line x1="652.40" y1="660.60" x2="733.50" y2="660.60" stroke="#4a4a4a" stroke-width="0.64"/>
<line x1="652.40" y1="729.20" x2="733.50" y2="729.20" stroke="#4a4a4a" stroke-width="0.64"/>
<line x1="729.70" y1="660.60" x2="729.70" y2="729.20" stroke="#4a4a4a" stroke-width="0.64"/>
<polygon points="729.70,660.60 731.25,667.10 728.15,667.10" fill="#2e2e2e"/>
<polygon points="729.70,729.20 728.15,722.70 731.25,722.70" fill="#2e2e2e"/>
<line x1="644.40" y1="667.20" x2="719.10" y2="667.20" stroke="#4a4a4a" stroke-width="0.64"/>
<line x1="644.40" y1="723.50" x2="719.10" y2="723.50" stroke="#4a4a4a" stroke-width="0.64"/>
<line x1="716.60" y1="667.20" x2="716.60" y2="723.50" stroke="#4a4a4a" stroke-width="0.64"/>
<polygon points="716.60,667.20 718.15,673.70 715.05,673.70" fill="#2e2e2e"/>
<polygon points="716.60,723.50 715.05,717.00 718.15,717.00" fill="#2e2e2e"/>
<line x1="645.00" y1="670.60" x2="706.00" y2="670.60" stroke="#4a4a4a" stroke-width="0.64"/>
<line x1="648.00" y1="719.30" x2="706.00" y2="719.30" stroke="#4a4a4a" stroke-width="0.64"/>
<line x1="703.90" y1="670.60" x2="703.90" y2="719.30" stroke="#4a4a4a" stroke-width="0.64"/>
<polygon points="703.90,670.60 705.45,677.10 702.35,677.10" fill="#2e2e2e"/>
<polygon points="703.90,719.30 702.35,712.80 705.45,712.80" fill="#2e2e2e"/>
<line x1="635.00" y1="676.70" x2="694.00" y2="676.70" stroke="#4a4a4a" stroke-width="0.64"/>
<line x1="641.00" y1="713.00" x2="694.00" y2="713.00" stroke="#4a4a4a" stroke-width="0.64"/>
<line x1="691.80" y1="676.70" x2="691.80" y2="713.00" stroke="#4a4a4a" stroke-width="0.64"/>
<polygon points="691.80,676.70 693.35,683.20 690.25,683.20" fill="#2e2e2e"/>
<polygon points="691.80,713.00 690.25,706.50 693.35,706.50" fill="#2e2e2e"/>
<line x1="645.00" y1="683.40" x2="681.00" y2="683.40" stroke="#4a4a4a" stroke-width="0.64"/>
<line x1="648.00" y1="706.80" x2="681.00" y2="706.80" stroke="#4a4a4a" stroke-width="0.64"/>
<line x1="678.60" y1="683.40" x2="678.60" y2="706.80" stroke="#4a4a4a" stroke-width="0.64"/>
<polygon points="678.60,683.40 680.15,689.90 677.05,689.90" fill="#2e2e2e"/>
<polygon points="678.60,706.80 677.05,700.30 680.15,700.30" fill="#2e2e2e"/>
<text x="676.00" y="699.40" font-size="9.2" text-anchor="middle" textLength="29.00" lengthAdjust="spacingAndGlyphs" transform="rotate(-90 676.00 699.40)" fill="#595959" font-family='"Liberation Sans", "Noto Sans CJK SC", sans-serif'>76 ± 0.1</text>
<text x="688.20" y="695.00" font-size="9.2" text-anchor="middle" textLength="35.50" lengthAdjust="spacingAndGlyphs" transform="rotate(-90 688.20 695.00)" fill="#595959" font-family='"Liberation Sans", "Noto Sans CJK SC", sans-serif'>116 ± 0.1</text>
<text x="701.90" y="695.00" font-size="9.2" text-anchor="middle" textLength="33.00" lengthAdjust="spacingAndGlyphs" transform="rotate(-90 701.90 695.00)" fill="#595959" font-family='"Liberation Sans", "Noto Sans CJK SC", sans-serif'>56 ± 0.1</text>
<text x="714.50" y="696.80" font-size="10.2" text-anchor="middle" textLength="14.40" lengthAdjust="spacingAndGlyphs" transform="rotate(-90 714.50 696.80)" fill="#595959" font-family='"Liberation Sans", "Noto Sans CJK SC", sans-serif'>180</text>
<text x="728.10" y="696.80" font-size="10.2" text-anchor="middle" textLength="24.00" lengthAdjust="spacingAndGlyphs" transform="rotate(-90 728.10 696.80)" fill="#595959" font-family='"Liberation Sans", "Noto Sans CJK SC", sans-serif'>Φ 220</text>
<text x="740.90" y="696.80" font-size="10.2" text-anchor="middle" textLength="24.00" lengthAdjust="spacingAndGlyphs" transform="rotate(-90 740.90 696.80)" fill="#595959" font-family='"Liberation Sans", "Noto Sans CJK SC", sans-serif'>Φ 406</text>
<text x="754.70" y="696.80" font-size="10.2" text-anchor="middle" textLength="24.00" lengthAdjust="spacingAndGlyphs" transform="rotate(-90 754.70 696.80)" fill="#595959" font-family='"Liberation Sans", "Noto Sans CJK SC", sans-serif'>Φ 535</text>
<text x="647.00" y="650.20" font-size="10.0" textLength="32.00" lengthAdjust="spacingAndGlyphs" fill="#595959" font-family='"Liberation Sans", "Noto Sans CJK SC", sans-serif'>2-Φ25</text>
<line x1="645.20" y1="651.90" x2="679.90" y2="651.90" stroke="#4a4a4a" stroke-width="0.64"/>
<line x1="645.20" y1="651.90" x2="635.10" y2="673.40" stroke="#4a4a4a" stroke-width="0.64"/>
<polygon points="635.10,673.40 636.10,668.90 637.91,669.74" fill="#2e2e2e"/>
<text x="573.80" y="674.90" font-size="9.4" textLength="39.00" lengthAdjust="spacingAndGlyphs" fill="#595959" font-family='"Liberation Sans", "Noto Sans CJK SC", sans-serif'>M22 × 1.5</text>
<text x="593.30" y="684.20" font-size="9.4" text-anchor="middle" textLength="18.00" lengthAdjust="spacingAndGlyphs" fill="#595959" font-family='"Liberation Sans", "Noto Sans CJK SC", sans-serif'><tspan font-size="8.27">深</tspan>12</text>
<path d="M574.3,685.8 L609.7,685.8 Q615,685.8 619,688.5 L626.2,692.9" fill="none" stroke="#4a4a4a" stroke-width="0.64" />
<polygon points="626.60,693.20 622.25,691.66 623.31,689.97" fill="#2e2e2e"/>
<text x="677.80" y="741.30" font-size="9.6" textLength="30.70" lengthAdjust="spacingAndGlyphs" fill="#595959" font-family='"Liberation Sans", "Noto Sans CJK SC", sans-serif'>8-M12</text>
<text x="693.40" y="751.10" font-size="9.6" text-anchor="middle" textLength="18.50" lengthAdjust="spacingAndGlyphs" fill="#595959" font-family='"Liberation Sans", "Noto Sans CJK SC", sans-serif'><tspan font-size="8.45">深</tspan>16</text>
<line x1="676.10" y1="753.20" x2="709.00" y2="753.20" stroke="#4a4a4a" stroke-width="0.64"/>
<line x1="676.10" y1="753.20" x2="647.70" y2="721.00" stroke="#4a4a4a" stroke-width="0.64"/>
<polygon points="647.70,721.00 651.43,723.71 649.93,725.03" fill="#2e2e2e"/>
</svg>
</figure>
<svg class="spec-table" role="img" aria-label="参数表" width="790" height="125" viewBox="0 900 790 125" style="top:900px">
<line x1="7.10" y1="910.40" x2="771.90" y2="910.40" stroke="#9c9c9c" stroke-width="1.1"/>
<line x1="7.10" y1="1001.70" x2="771.90" y2="1001.70" stroke="#a8a8a8" stroke-width="1.3"/>
<line x1="7.10" y1="980.40" x2="771.90" y2="980.40" stroke="#858585" stroke-width="0.6"/>
<line x1="287.60" y1="939.20" x2="678.40" y2="939.20" stroke="#858585" stroke-width="0.6"/>
<line x1="220.30" y1="910.40" x2="220.30" y2="1001.70" stroke="#858585" stroke-width="0.6"/>
<line x1="287.60" y1="910.40" x2="287.60" y2="1001.70" stroke="#858585" stroke-width="0.6"/>
<line x1="398.60" y1="910.40" x2="398.60" y2="1001.70" stroke="#858585" stroke-width="0.6"/>
<line x1="517.30" y1="910.40" x2="517.30" y2="1001.70" stroke="#858585" stroke-width="0.6"/>
<line x1="678.40" y1="910.40" x2="678.40" y2="1001.70" stroke="#858585" stroke-width="0.6"/>
<line x1="341.30" y1="939.20" x2="341.30" y2="1001.70" stroke="#858585" stroke-width="0.6"/>
<line x1="458.90" y1="939.20" x2="458.90" y2="1001.70" stroke="#858585" stroke-width="0.6"/>
<line x1="598.60" y1="939.20" x2="598.60" y2="1001.70" stroke="#858585" stroke-width="0.6"/>
<text x="109.50" y="948.60" font-size="13.4" text-anchor="middle" textLength="41.80" lengthAdjust="spacingAndGlyphs" font-weight="500" stroke="#3c3c3c" stroke-width="0.25" fill="#3c3c3c" font-family='"Liberation Sans", "Noto Sans CJK SC", sans-serif'>型　号</text>
<text x="254.80" y="939.40" font-size="12.8" text-anchor="middle" textLength="39.70" lengthAdjust="spacingAndGlyphs" font-weight="500" stroke="#3c3c3c" stroke-width="0.25" fill="#3c3c3c" font-family='"Liberation Sans", "Noto Sans CJK SC", sans-serif'>总排量</text>
<text x="254.70" y="957.60" font-size="14.4" text-anchor="middle" textLength="28.40" lengthAdjust="spacingAndGlyphs" stroke="#333" stroke-width="0.35" fill="#333" font-family='"Liberation Sans", "Noto Sans CJK SC", sans-serif'>ml/r</text>
<text x="342.80" y="930.00" font-size="12.8" text-anchor="middle" textLength="93.20" lengthAdjust="spacingAndGlyphs" font-weight="500" stroke="#3c3c3c" stroke-width="0.25" fill="#3c3c3c" font-family='"Liberation Sans", "Noto Sans CJK SC", sans-serif'>工作压力 <tspan font-size="14.34">(Mpa)</tspan></text>
<text x="459.60" y="930.00" font-size="12.8" text-anchor="middle" textLength="97.70" lengthAdjust="spacingAndGlyphs" font-weight="500" stroke="#3c3c3c" stroke-width="0.25" fill="#3c3c3c" font-family='"Liberation Sans", "Noto Sans CJK SC", sans-serif'>输出扭矩 <tspan font-size="14.34">(N.m)</tspan></text>
<text x="599.10" y="930.00" font-size="12.8" text-anchor="middle" textLength="74.00" lengthAdjust="spacingAndGlyphs" font-weight="500" stroke="#3c3c3c" stroke-width="0.25" fill="#3c3c3c" font-family='"Liberation Sans", "Noto Sans CJK SC", sans-serif'>转速 <tspan font-size="14.34">(r/min)</tspan></text>
<text x="314.50" y="963.70" font-size="12.8" text-anchor="middle" textLength="25.50" lengthAdjust="spacingAndGlyphs" font-weight="500" stroke="#3c3c3c" stroke-width="0.25" fill="#3c3c3c" font-family='"Liberation Sans", "Noto Sans CJK SC", sans-serif'>额定</text>
<text x="371.20" y="963.70" font-size="12.8" text-anchor="middle" textLength="26.00" lengthAdjust="spacingAndGlyphs" font-weight="500" stroke="#3c3c3c" stroke-width="0.25" fill="#3c3c3c" font-family='"Liberation Sans", "Noto Sans CJK SC", sans-serif'>最高</text>
<text x="429.20" y="963.70" font-size="12.8" text-anchor="middle" textLength="26.40" lengthAdjust="spacingAndGlyphs" font-weight="500" stroke="#3c3c3c" stroke-width="0.25" fill="#3c3c3c" font-family='"Liberation Sans", "Noto Sans CJK SC", sans-serif'>额定</text>
<text x="488.10" y="963.70" font-size="12.8" text-anchor="middle" textLength="26.60" lengthAdjust="spacingAndGlyphs" font-weight="500" stroke="#3c3c3c" stroke-width="0.25" fill="#3c3c3c" font-family='"Liberation Sans", "Noto Sans CJK SC", sans-serif'>最大</text>
<text x="558.40" y="963.70" font-size="12.8" text-anchor="middle" textLength="53.20" lengthAdjust="spacingAndGlyphs" font-weight="500" stroke="#3c3c3c" stroke-width="0.25" fill="#3c3c3c" font-family='"Liberation Sans", "Noto Sans CJK SC", sans-serif'>转速范围</text>
<text x="639.60" y="963.70" font-size="12.8" text-anchor="middle" textLength="52.70" lengthAdjust="spacingAndGlyphs" font-weight="500" stroke="#3c3c3c" stroke-width="0.25" fill="#3c3c3c" font-family='"Liberation Sans", "Noto Sans CJK SC", sans-serif'>额定转速</text>
<text x="725.40" y="934.00" font-size="12.8" text-anchor="middle" textLength="72.40" lengthAdjust="spacingAndGlyphs" font-weight="500" stroke="#3c3c3c" stroke-width="0.25" fill="#3c3c3c" font-family='"Liberation Sans", "Noto Sans CJK SC", sans-serif'>行星减速器</text>
<text x="725.20" y="951.60" font-size="12.8" text-anchor="middle" textLength="27.40" lengthAdjust="spacingAndGlyphs" font-weight="500" stroke="#3c3c3c" stroke-width="0.25" fill="#3c3c3c" font-family='"Liberation Sans", "Noto Sans CJK SC", sans-serif'>型号</text>
<text x="109.90" y="996.10" font-size="12.2" text-anchor="middle" textLength="157.00" lengthAdjust="spacingAndGlyphs" fill="#6a6a6a" font-family='"Liberation Sans", "Noto Sans CJK SC", sans-serif'>HZ25/0-50000-m46i10P170</text>
<text x="255.00" y="996.10" font-size="12.2" text-anchor="middle" textLength="33.90" lengthAdjust="spacingAndGlyphs" fill="#6a6a6a" font-family='"Liberation Sans", "Noto Sans CJK SC", sans-serif'>24980</text>
<text x="315.00" y="996.10" font-size="12.2" text-anchor="middle" textLength="13.40" lengthAdjust="spacingAndGlyphs" fill="#6a6a6a" font-family='"Liberation Sans", "Noto Sans CJK SC", sans-serif'>16</text>
<text x="371.10" y="996.10" font-size="12.2" text-anchor="middle" textLength="13.90" lengthAdjust="spacingAndGlyphs" fill="#6a6a6a" font-family='"Liberation Sans", "Noto Sans CJK SC", sans-serif'>20</text>
<text x="430.50" y="996.10" font-size="12.2" text-anchor="middle" textLength="33.40" lengthAdjust="spacingAndGlyphs" fill="#6a6a6a" font-family='"Liberation Sans", "Noto Sans CJK SC", sans-serif'>50000</text>
<text x="488.00" y="996.10" font-size="12.2" text-anchor="middle" textLength="34.00" lengthAdjust="spacingAndGlyphs" fill="#6a6a6a" font-family='"Liberation Sans", "Noto Sans CJK SC", sans-serif'>63000</text>
<text x="558.10" y="996.10" font-size="12.2" text-anchor="middle" textLength="22.80" lengthAdjust="spacingAndGlyphs" fill="#6a6a6a" font-family='"Liberation Sans", "Noto Sans CJK SC", sans-serif'>0-8</text>
<text x="639.10" y="996.10" font-size="12.2" text-anchor="middle" textLength="17.00" lengthAdjust="spacingAndGlyphs" fill="#6a6a6a" font-family='"Liberation Sans", "Noto Sans CJK SC", sans-serif'>4.5</text>
<text x="725.20" y="996.10" font-size="12.2" text-anchor="middle" textLength="85.00" lengthAdjust="spacingAndGlyphs" fill="#6a6a6a" font-family='"Liberation Sans", "Noto Sans CJK SC", sans-serif'>m46i3.15 × 3.17</text>
</svg>
</section>
</main>
</body>
</html>
